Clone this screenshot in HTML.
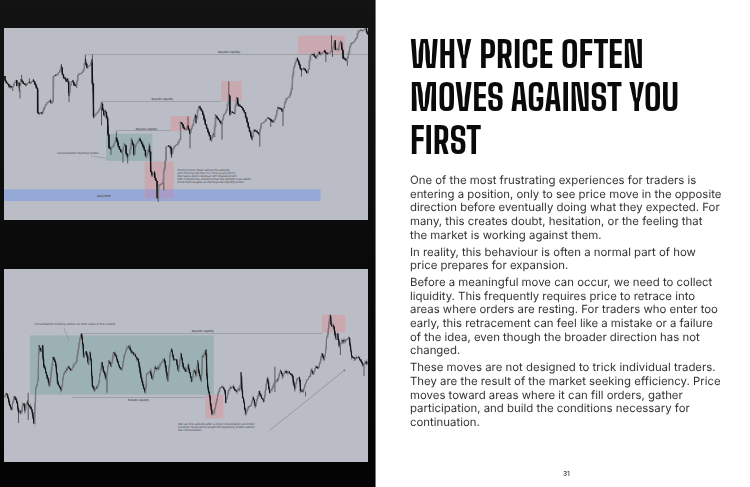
<!DOCTYPE html>
<html><head><meta charset="utf-8"><title>Why price often moves against you first</title>
<style>
*{margin:0;padding:0;box-sizing:border-box}
html,body{width:750px;height:487px;overflow:hidden;background:#fff}
body{position:relative}
#edge{position:absolute;left:375px;top:0;width:1px;height:487px;background:#777}
#left{position:absolute;left:0;top:0;width:375px;height:487px;background:linear-gradient(#131313,#0b0b0b 50%,#040404)}
.ch{position:absolute;display:block}
h1{position:absolute;left:410px;top:32.7px;will-change:transform;font-family:"Big Shoulders Text","Bebas Neue","Liberation Sans",sans-serif;font-weight:800;font-synthesis:none;font-size:35.9px;line-height:43px;color:#0a0a0a;letter-spacing:0}
h1 span{display:block;width:max-content;white-space:nowrap;transform-origin:0 50%}
#body{position:absolute;left:410px;top:173.6px;will-change:transform;text-rendering:geometricPrecision;font-family:"Inter","Liberation Sans",sans-serif;font-size:11.4px;line-height:13.62px;color:#333336}
#body p{margin-bottom:3.4px}
#body .l{display:block;white-space:nowrap;transform-origin:0 50%}
#pn{position:absolute;left:562.9px;top:470.4px;font-family:"Inter","Liberation Sans",sans-serif;font-size:6.6px;font-weight:600;color:#505050;will-change:transform;letter-spacing:-0.1px}
</style></head><body>
<div id="left"></div><div id="edge"></div>
<svg class="ch" style="left:4px;top:28px" width="364" height="192" viewBox="4 28 364 192">
<rect x="4" y="28" width="364" height="192" fill="#babdc6"/>
<rect x="4" y="189.3" width="316.5" height="11.7" fill="#95a8d7"/>
<rect x="106.1" y="133.8" width="46.3" height="27" fill="#9bb1b3"/>
<rect x="144.6" y="161.5" width="29.2" height="36.9" fill="#caa8b0"/>
<rect x="144.6" y="189.3" width="29.2" height="9.1" fill="#a79cc8"/>
<rect x="170.3" y="116" width="20.8" height="15" fill="#caa8b0"/>
<rect x="221" y="81" width="20.7" height="20.5" fill="#caa8b0"/>
<rect x="298.1" y="35.6" width="46.7" height="18" fill="#caa8b0"/>
<g stroke="#86878e" stroke-width="0.55">
<line x1="86" y1="54.5" x2="368" y2="54.5"/>
<line x1="101.5" y1="101.5" x2="221" y2="101.5"/>
<line x1="116.4" y1="130.5" x2="170.3" y2="130.5"/>
<line x1="91.2" y1="156" x2="105.9" y2="158.2"/>
</g>
<g stroke="#3c3d42" stroke-width="0.8"><line x1="12.7" y1="87.7" x2="12.7" y2="91"/><line x1="20" y1="89.7" x2="20" y2="98.4"/><line x1="21.6" y1="75" x2="21.6" y2="80"/><line x1="29.4" y1="78.4" x2="29.4" y2="82.4"/><line x1="61.4" y1="64" x2="61.4" y2="69"/><line x1="69" y1="95" x2="69" y2="102"/><line x1="85.4" y1="54.7" x2="85.4" y2="60"/><line x1="92.4" y1="54.7" x2="92.4" y2="60"/><line x1="101.5" y1="102.7" x2="101.5" y2="125.4"/><line x1="111" y1="147" x2="111" y2="154.7"/><line x1="116.4" y1="131.4" x2="116.4" y2="137.4"/><line x1="123" y1="153.4" x2="123" y2="162.7"/><line x1="127.7" y1="156.7" x2="127.7" y2="163.4"/><line x1="131.3" y1="138" x2="131.3" y2="141"/><line x1="149.2" y1="143.5" x2="149.2" y2="148.8"/><line x1="158.2" y1="198" x2="158.2" y2="202"/><line x1="163.8" y1="182.7" x2="163.8" y2="190.4"/><line x1="188" y1="116.4" x2="188" y2="125.7"/><line x1="190" y1="133.7" x2="190" y2="148.4"/><line x1="222" y1="123.7" x2="222" y2="139.7"/><line x1="228.8" y1="81.4" x2="228.8" y2="100"/><line x1="259.8" y1="134" x2="259.8" y2="146.5"/><line x1="270.7" y1="119.8" x2="270.7" y2="127"/><line x1="283" y1="111.6" x2="283" y2="126"/><line x1="301.5" y1="70.5" x2="301.5" y2="76.7"/><line x1="325.8" y1="53.8" x2="325.8" y2="62"/><line x1="331.5" y1="35.3" x2="331.5" y2="50"/><line x1="332.5" y1="49.7" x2="332.5" y2="56.9"/><line x1="347.4" y1="60" x2="347.4" y2="65.6"/></g>
<g stroke-width="1.0" stroke-linecap="round"><line x1="4.4" y1="76.4" x2="5.3" y2="79.7" stroke="#141416"/><line x1="5.3" y1="79.7" x2="6.7" y2="82.4" stroke="#141416"/><line x1="6.7" y1="82.4" x2="8.7" y2="85" stroke="#141416"/><line x1="8.7" y1="85" x2="10" y2="87" stroke="#141416"/><line x1="10" y1="87" x2="11.3" y2="86.4" stroke="#6c6d73"/><line x1="11.3" y1="86.4" x2="12.7" y2="87.7" stroke="#141416"/><line x1="12.7" y1="87.7" x2="14" y2="84.4" stroke="#6c6d73"/><line x1="14" y1="84.4" x2="15.4" y2="81.7" stroke="#6c6d73"/><line x1="15.4" y1="81.7" x2="16.7" y2="80.4" stroke="#6c6d73"/><line x1="16.7" y1="80.4" x2="17.4" y2="85.7" stroke="#141416"/><line x1="17.4" y1="85.7" x2="18.7" y2="83" stroke="#6c6d73"/><line x1="18.7" y1="83" x2="19.4" y2="89.7" stroke="#141416"/><line x1="19.4" y1="89.7" x2="20.7" y2="79.7" stroke="#6c6d73"/><line x1="20.7" y1="79.7" x2="22.7" y2="81.7" stroke="#141416"/><line x1="22.7" y1="81.7" x2="24" y2="83.7" stroke="#141416"/><line x1="24" y1="83.7" x2="26" y2="85" stroke="#141416"/><line x1="26" y1="85" x2="28" y2="83" stroke="#6c6d73"/><line x1="28" y1="83" x2="29.4" y2="82.4" stroke="#6c6d73"/><line x1="29.4" y1="82.4" x2="30.7" y2="83.7" stroke="#141416"/><line x1="30.7" y1="83.7" x2="32" y2="81.7" stroke="#6c6d73"/><line x1="32" y1="81.7" x2="33.4" y2="79.7" stroke="#6c6d73"/><line x1="33.4" y1="79.7" x2="34.7" y2="83" stroke="#141416"/><line x1="34.7" y1="83" x2="36.7" y2="87.7" stroke="#141416"/><line x1="36.7" y1="87.7" x2="37.8" y2="90.4" stroke="#141416"/><line x1="37.8" y1="90.4" x2="38" y2="113" stroke="#141416"/><line x1="38" y1="113" x2="39.4" y2="113.7" stroke="#141416"/><line x1="39.4" y1="113.7" x2="41.4" y2="112.4" stroke="#6c6d73"/><line x1="41.4" y1="112.4" x2="42.7" y2="113.7" stroke="#141416"/><line x1="42.7" y1="113.7" x2="44" y2="108.4" stroke="#6c6d73"/><line x1="44" y1="108.4" x2="45.4" y2="106.4" stroke="#6c6d73"/><line x1="45.4" y1="106.4" x2="46.7" y2="103" stroke="#6c6d73"/><line x1="46.7" y1="103" x2="48" y2="102.4" stroke="#6c6d73"/><line x1="48" y1="102.4" x2="50" y2="101" stroke="#6c6d73"/><line x1="50" y1="101" x2="52" y2="103" stroke="#141416"/><line x1="52" y1="103" x2="53.4" y2="100.4" stroke="#6c6d73"/><line x1="53.4" y1="100.4" x2="53.8" y2="76.4" stroke="#6c6d73"/><line x1="53.8" y1="76.4" x2="55.4" y2="75" stroke="#6c6d73"/><line x1="55.4" y1="75" x2="57.4" y2="74.4" stroke="#6c6d73"/><line x1="57.4" y1="74.4" x2="59.4" y2="72.4" stroke="#6c6d73"/><line x1="59.4" y1="72.4" x2="60.7" y2="69.7" stroke="#6c6d73"/><line x1="60.7" y1="69.7" x2="61.4" y2="66" stroke="#6c6d73"/><line x1="61.4" y1="66" x2="62.3" y2="71.4" stroke="#141416"/><line x1="62.3" y1="71.4" x2="63.7" y2="78" stroke="#141416"/><line x1="63.7" y1="78" x2="65" y2="77.4" stroke="#6c6d73"/><line x1="65" y1="77.4" x2="66.3" y2="81.4" stroke="#141416"/><line x1="66.3" y1="81.4" x2="67.7" y2="78.7" stroke="#6c6d73"/><line x1="67.7" y1="78.7" x2="68.4" y2="83.4" stroke="#141416"/><line x1="68.4" y1="83.4" x2="69" y2="95.4" stroke="#141416"/><line x1="69" y1="95.4" x2="70.4" y2="86.7" stroke="#6c6d73"/><line x1="70.4" y1="86.7" x2="71.7" y2="81.4" stroke="#6c6d73"/><line x1="71.7" y1="81.4" x2="73" y2="80.7" stroke="#6c6d73"/><line x1="73" y1="80.7" x2="74.4" y2="85.4" stroke="#141416"/><line x1="74.4" y1="85.4" x2="75.7" y2="84.7" stroke="#6c6d73"/><line x1="75.7" y1="84.7" x2="76.6" y2="87.4" stroke="#141416"/><line x1="76.6" y1="87.4" x2="77.7" y2="76.7" stroke="#6c6d73"/><line x1="77.7" y1="76.7" x2="79" y2="74" stroke="#6c6d73"/><line x1="79" y1="74" x2="81" y2="73.4" stroke="#6c6d73"/><line x1="81" y1="73.4" x2="83" y2="72" stroke="#6c6d73"/><line x1="83" y1="72" x2="84.4" y2="68.7" stroke="#6c6d73"/><line x1="84.4" y1="68.7" x2="85.4" y2="59.4" stroke="#6c6d73"/><line x1="85.4" y1="59.4" x2="87" y2="68" stroke="#141416"/><line x1="87" y1="68" x2="89" y2="66" stroke="#6c6d73"/><line x1="89" y1="66" x2="91" y2="64.7" stroke="#6c6d73"/><line x1="91" y1="64.7" x2="92" y2="60" stroke="#6c6d73"/><line x1="92" y1="60" x2="93" y2="89.4" stroke="#141416"/><line x1="93" y1="89.4" x2="93.8" y2="117" stroke="#141416"/><line x1="93.8" y1="117" x2="95.7" y2="115" stroke="#6c6d73"/><line x1="95.7" y1="115" x2="97.7" y2="112.7" stroke="#6c6d73"/><line x1="97.7" y1="112.7" x2="100.3" y2="108" stroke="#6c6d73"/><line x1="100.3" y1="108" x2="101" y2="106" stroke="#6c6d73"/><line x1="101" y1="106" x2="101.7" y2="102.7" stroke="#6c6d73"/><line x1="101.7" y1="102.7" x2="103" y2="109.3" stroke="#141416"/><line x1="103" y1="109.3" x2="104.3" y2="116" stroke="#141416"/><line x1="104.3" y1="116" x2="105.4" y2="110.7" stroke="#6c6d73"/><line x1="105.4" y1="110.7" x2="107" y2="116.7" stroke="#141416"/><line x1="107" y1="116.7" x2="108.1" y2="127.4" stroke="#141416"/><line x1="108.1" y1="127.4" x2="109" y2="147.4" stroke="#141416"/><line x1="109" y1="147.4" x2="110.4" y2="148.7" stroke="#141416"/><line x1="110.4" y1="148.7" x2="111.7" y2="147.4" stroke="#6c6d73"/><line x1="111.7" y1="147.4" x2="113" y2="146.7" stroke="#6c6d73"/><line x1="113" y1="146.7" x2="114.4" y2="144.7" stroke="#6c6d73"/><line x1="114.4" y1="144.7" x2="116.1" y2="137.4" stroke="#6c6d73"/><line x1="116.1" y1="137.4" x2="117" y2="140" stroke="#141416"/><line x1="117" y1="140" x2="118.4" y2="145.4" stroke="#141416"/><line x1="118.4" y1="145.4" x2="120.4" y2="150" stroke="#141416"/><line x1="120.4" y1="150" x2="122.4" y2="153.4" stroke="#141416"/><line x1="122.4" y1="153.4" x2="124.4" y2="144" stroke="#6c6d73"/><line x1="124.4" y1="144" x2="125.7" y2="145.4" stroke="#141416"/><line x1="125.7" y1="145.4" x2="126.4" y2="152.7" stroke="#141416"/><line x1="126.4" y1="152.7" x2="127.7" y2="156.7" stroke="#141416"/><line x1="127.7" y1="156.7" x2="129.7" y2="153.4" stroke="#6c6d73"/><line x1="129.7" y1="153.4" x2="131" y2="146.7" stroke="#6c6d73"/><line x1="131" y1="146.7" x2="132.1" y2="140.7" stroke="#6c6d73"/><line x1="132.1" y1="140.7" x2="133.7" y2="146.7" stroke="#141416"/><line x1="133.7" y1="146.7" x2="134.4" y2="154.7" stroke="#141416"/><line x1="134.4" y1="154.7" x2="135.7" y2="145.4" stroke="#6c6d73"/><line x1="135.7" y1="145.4" x2="137.7" y2="142.7" stroke="#6c6d73"/><line x1="137.7" y1="142.7" x2="139.7" y2="138.7" stroke="#6c6d73"/><line x1="139.7" y1="138.7" x2="141" y2="141.4" stroke="#141416"/><line x1="141" y1="141.4" x2="143.1" y2="146" stroke="#141416"/><line x1="143.1" y1="146" x2="145.1" y2="150.7" stroke="#141416"/><line x1="145.1" y1="150.7" x2="146.4" y2="157.4" stroke="#141416"/><line x1="146.4" y1="157.4" x2="148.4" y2="150.7" stroke="#6c6d73"/><line x1="148.4" y1="150.7" x2="149.7" y2="146" stroke="#6c6d73"/><line x1="149.7" y1="146" x2="150.4" y2="160.4" stroke="#141416"/><line x1="150.4" y1="160.4" x2="150.8" y2="170.4" stroke="#141416"/><line x1="150.8" y1="170.4" x2="152.3" y2="175.8" stroke="#141416"/><line x1="152.3" y1="175.8" x2="154.6" y2="172" stroke="#6c6d73"/><line x1="154.6" y1="172" x2="155.4" y2="179.6" stroke="#141416"/><line x1="155.4" y1="179.6" x2="157" y2="181.2" stroke="#141416"/><line x1="157" y1="181.2" x2="157.4" y2="198" stroke="#141416"/><line x1="157.4" y1="198" x2="158.3" y2="197.5" stroke="#6c6d73"/><line x1="158.3" y1="197.5" x2="158.8" y2="185.8" stroke="#6c6d73"/><line x1="158.8" y1="185.8" x2="160.8" y2="184.2" stroke="#6c6d73"/><line x1="160.8" y1="184.2" x2="163" y2="182.7" stroke="#6c6d73"/><line x1="163" y1="182.7" x2="163.8" y2="172" stroke="#6c6d73"/><line x1="163.8" y1="172" x2="165.4" y2="165.8" stroke="#6c6d73"/><line x1="165.4" y1="165.8" x2="166.2" y2="147.3" stroke="#6c6d73"/><line x1="166.2" y1="147.3" x2="168.5" y2="145.8" stroke="#6c6d73"/><line x1="168.5" y1="145.8" x2="170.8" y2="148" stroke="#141416"/><line x1="170.8" y1="148" x2="171.5" y2="156.5" stroke="#141416"/><line x1="171.5" y1="156.5" x2="173" y2="149.6" stroke="#6c6d73"/><line x1="173" y1="149.6" x2="175.4" y2="145.8" stroke="#6c6d73"/><line x1="175.4" y1="145.8" x2="177.7" y2="144.2" stroke="#6c6d73"/><line x1="177.7" y1="144.2" x2="180" y2="139.6" stroke="#6c6d73"/><line x1="180" y1="139.6" x2="180.7" y2="139" stroke="#6c6d73"/><line x1="180.7" y1="139" x2="180.3" y2="122.4" stroke="#6c6d73"/><line x1="180.3" y1="122.4" x2="182" y2="123" stroke="#141416"/><line x1="182" y1="123" x2="184" y2="128.4" stroke="#141416"/><line x1="184" y1="128.4" x2="186" y2="129.7" stroke="#141416"/><line x1="186" y1="129.7" x2="188" y2="125.7" stroke="#6c6d73"/><line x1="188" y1="125.7" x2="190" y2="133.7" stroke="#141416"/><line x1="190" y1="133.7" x2="192.7" y2="125.7" stroke="#6c6d73"/><line x1="192.7" y1="125.7" x2="195.4" y2="115" stroke="#6c6d73"/><line x1="195.4" y1="115" x2="196" y2="123" stroke="#141416"/><line x1="196" y1="123" x2="198.7" y2="106.3" stroke="#6c6d73"/><line x1="198.7" y1="106.3" x2="200" y2="107.7" stroke="#141416"/><line x1="200" y1="107.7" x2="202.7" y2="112.4" stroke="#141416"/><line x1="202.7" y1="112.4" x2="205.4" y2="123" stroke="#141416"/><line x1="205.4" y1="123" x2="208" y2="131" stroke="#141416"/><line x1="208" y1="131" x2="210.7" y2="137.7" stroke="#141416"/><line x1="210.7" y1="137.7" x2="211.4" y2="141" stroke="#141416"/><line x1="211.4" y1="141" x2="213.4" y2="133.7" stroke="#6c6d73"/><line x1="213.4" y1="133.7" x2="214.7" y2="136.4" stroke="#141416"/><line x1="214.7" y1="136.4" x2="215.4" y2="115" stroke="#6c6d73"/><line x1="215.4" y1="115" x2="217.4" y2="117.7" stroke="#141416"/><line x1="217.4" y1="117.7" x2="219.4" y2="120.4" stroke="#141416"/><line x1="219.4" y1="120.4" x2="222" y2="123.7" stroke="#141416"/><line x1="222" y1="123.7" x2="224" y2="115" stroke="#6c6d73"/><line x1="224" y1="115" x2="227.4" y2="109" stroke="#6c6d73"/><line x1="227.4" y1="109" x2="228.5" y2="100" stroke="#6c6d73"/><line x1="228.5" y1="100" x2="229.4" y2="95" stroke="#6c6d73"/><line x1="229.4" y1="95" x2="230" y2="115" stroke="#141416"/><line x1="230" y1="115" x2="232" y2="111.7" stroke="#6c6d73"/><line x1="232" y1="111.7" x2="234.8" y2="113.7" stroke="#141416"/><line x1="234.8" y1="113.7" x2="236.8" y2="97.7" stroke="#6c6d73"/><line x1="236.8" y1="97.7" x2="238.8" y2="105.7" stroke="#141416"/><line x1="238.8" y1="105.7" x2="242" y2="107" stroke="#141416"/><line x1="242" y1="107" x2="244.8" y2="112.4" stroke="#141416"/><line x1="244.8" y1="112.4" x2="246.8" y2="119" stroke="#141416"/><line x1="246.8" y1="119" x2="249.1" y2="128" stroke="#141416"/><line x1="249.1" y1="128" x2="252.2" y2="139.3" stroke="#141416"/><line x1="252.2" y1="139.3" x2="254.2" y2="130" stroke="#6c6d73"/><line x1="254.2" y1="130" x2="257.3" y2="132" stroke="#141416"/><line x1="257.3" y1="132" x2="259.4" y2="134.2" stroke="#141416"/><line x1="259.4" y1="134.2" x2="261.4" y2="124" stroke="#6c6d73"/><line x1="261.4" y1="124" x2="264.5" y2="121.9" stroke="#6c6d73"/><line x1="264.5" y1="121.9" x2="267.6" y2="117.8" stroke="#6c6d73"/><line x1="267.6" y1="117.8" x2="270.7" y2="119.8" stroke="#141416"/><line x1="270.7" y1="119.8" x2="273.7" y2="121.9" stroke="#141416"/><line x1="273.7" y1="121.9" x2="275.8" y2="117.8" stroke="#6c6d73"/><line x1="275.8" y1="117.8" x2="277.9" y2="107.5" stroke="#6c6d73"/><line x1="277.9" y1="107.5" x2="281" y2="108.5" stroke="#141416"/><line x1="281" y1="108.5" x2="283" y2="111.6" stroke="#141416"/><line x1="283" y1="111.6" x2="286" y2="99.3" stroke="#6c6d73"/><line x1="286" y1="99.3" x2="289.1" y2="97.2" stroke="#6c6d73"/><line x1="289.1" y1="97.2" x2="291.2" y2="93.1" stroke="#6c6d73"/><line x1="291.2" y1="93.1" x2="292.2" y2="87" stroke="#6c6d73"/><line x1="292.2" y1="87" x2="293.3" y2="70.5" stroke="#6c6d73"/><line x1="293.3" y1="70.5" x2="295.3" y2="63.3" stroke="#6c6d73"/><line x1="295.3" y1="63.3" x2="297.4" y2="58.2" stroke="#6c6d73"/><line x1="297.4" y1="58.2" x2="299.4" y2="64.4" stroke="#141416"/><line x1="299.4" y1="64.4" x2="301.5" y2="70.5" stroke="#141416"/><line x1="301.5" y1="70.5" x2="303.7" y2="68.2" stroke="#6c6d73"/><line x1="303.7" y1="68.2" x2="305.3" y2="69.2" stroke="#141416"/><line x1="305.3" y1="69.2" x2="307.3" y2="72.8" stroke="#141416"/><line x1="307.3" y1="72.8" x2="309.4" y2="68.2" stroke="#6c6d73"/><line x1="309.4" y1="68.2" x2="310.2" y2="55.8" stroke="#6c6d73"/><line x1="310.2" y1="55.8" x2="312" y2="54.3" stroke="#6c6d73"/><line x1="312" y1="54.3" x2="314.5" y2="55.3" stroke="#141416"/><line x1="314.5" y1="55.3" x2="316" y2="57.9" stroke="#141416"/><line x1="316" y1="57.9" x2="317.1" y2="55.8" stroke="#6c6d73"/><line x1="317.1" y1="55.8" x2="319.2" y2="52.2" stroke="#6c6d73"/><line x1="319.2" y1="52.2" x2="320.7" y2="54.8" stroke="#141416"/><line x1="320.7" y1="54.8" x2="322.7" y2="52.7" stroke="#6c6d73"/><line x1="322.7" y1="52.7" x2="324.8" y2="50.2" stroke="#6c6d73"/><line x1="324.8" y1="50.2" x2="325.8" y2="53.8" stroke="#141416"/><line x1="325.8" y1="53.8" x2="327.9" y2="53.8" stroke="#6c6d73"/><line x1="327.9" y1="53.8" x2="330.5" y2="52.2" stroke="#6c6d73"/><line x1="330.5" y1="52.2" x2="332" y2="49.7" stroke="#6c6d73"/><line x1="332" y1="49.7" x2="333.5" y2="47.1" stroke="#6c6d73"/><line x1="333.5" y1="47.1" x2="335.1" y2="40.4" stroke="#6c6d73"/><line x1="335.1" y1="40.4" x2="335.6" y2="49.7" stroke="#141416"/><line x1="335.6" y1="49.7" x2="337.1" y2="49.2" stroke="#6c6d73"/><line x1="337.1" y1="49.2" x2="338.7" y2="49.7" stroke="#141416"/><line x1="338.7" y1="49.7" x2="339.7" y2="44" stroke="#6c6d73"/><line x1="339.7" y1="44" x2="340.7" y2="41.4" stroke="#6c6d73"/><line x1="340.7" y1="41.4" x2="341.8" y2="46.6" stroke="#141416"/><line x1="341.8" y1="46.6" x2="342.8" y2="52.7" stroke="#141416"/><line x1="342.8" y1="52.7" x2="343.3" y2="57.9" stroke="#141416"/><line x1="343.3" y1="57.9" x2="344.8" y2="58.9" stroke="#141416"/><line x1="344.8" y1="58.9" x2="346.4" y2="60.5" stroke="#141416"/><line x1="346.4" y1="60.5" x2="348.4" y2="55.8" stroke="#6c6d73"/><line x1="348.4" y1="55.8" x2="349.5" y2="49.7" stroke="#6c6d73"/><line x1="349.5" y1="49.7" x2="351" y2="43.5" stroke="#6c6d73"/><line x1="351" y1="43.5" x2="352.6" y2="43" stroke="#6c6d73"/><line x1="352.6" y1="43" x2="354.6" y2="41.4" stroke="#6c6d73"/><line x1="354.6" y1="41.4" x2="356.2" y2="38.4" stroke="#6c6d73"/><line x1="356.2" y1="38.4" x2="357.7" y2="36.3" stroke="#6c6d73"/><line x1="357.7" y1="36.3" x2="358.2" y2="31.2" stroke="#6c6d73"/><line x1="358.2" y1="31.2" x2="360.8" y2="30.1" stroke="#6c6d73"/><line x1="360.8" y1="30.1" x2="362.8" y2="30.7" stroke="#141416"/><line x1="362.8" y1="30.7" x2="364.9" y2="29.1" stroke="#6c6d73"/><line x1="364.9" y1="29.1" x2="366.4" y2="28.6" stroke="#6c6d73"/><line x1="366.4" y1="28.6" x2="367.5" y2="34.2" stroke="#141416"/></g>
<g><line x1="5.05" y1="76.03" x2="5.05" y2="82.75" stroke="#131315" stroke-width="0.45"/><rect x="4.38" y="76.03" width="1.35" height="4.78" fill="#131315"/><line x1="6.35" y1="80.64" x2="6.35" y2="83.77" stroke="#131315" stroke-width="0.45"/><rect x="5.68" y="80.82" width="1.35" height="2.23" fill="#131315"/><line x1="7.65" y1="82.65" x2="7.65" y2="84.43" stroke="#131315" stroke-width="0.45"/><rect x="6.98" y="83.05" width="1.35" height="1.18" fill="#131315"/><line x1="8.95" y1="84.23" x2="8.95" y2="88.05" stroke="#131315" stroke-width="0.45"/><rect x="8.28" y="84.24" width="1.35" height="2.14" fill="#131315"/><line x1="10.25" y1="84.50" x2="10.25" y2="88.88" stroke="#131315" stroke-width="0.45"/><rect x="9.58" y="86.38" width="1.35" height="0.60" fill="#131315"/><line x1="11.55" y1="86.38" x2="11.55" y2="87.48" stroke="#131315" stroke-width="0.45"/><rect x="10.88" y="86.53" width="1.35" height="0.85" fill="#131315"/><line x1="12.85" y1="85.19" x2="12.85" y2="89.62" stroke="#7c7d83" stroke-width="0.45"/><rect x="12.18" y="85.96" width="1.35" height="1.43" fill="#7c7d83"/><line x1="14.15" y1="81.86" x2="14.15" y2="86.91" stroke="#7c7d83" stroke-width="0.45"/><rect x="13.48" y="82.45" width="1.35" height="3.51" fill="#7c7d83"/><line x1="15.45" y1="79.65" x2="15.45" y2="82.59" stroke="#7c7d83" stroke-width="0.45"/><rect x="14.78" y="80.53" width="1.35" height="1.92" fill="#7c7d83"/><line x1="16.75" y1="79.81" x2="16.75" y2="86.22" stroke="#131315" stroke-width="0.45"/><rect x="16.08" y="80.53" width="1.35" height="5.51" fill="#131315"/><line x1="18.05" y1="82.81" x2="18.05" y2="86.05" stroke="#7c7d83" stroke-width="0.45"/><rect x="17.38" y="82.93" width="1.35" height="3.10" fill="#7c7d83"/><line x1="19.35" y1="82.78" x2="19.35" y2="91.63" stroke="#131315" stroke-width="0.45"/><rect x="18.68" y="82.93" width="1.35" height="2.41" fill="#131315"/><line x1="20.65" y1="79.30" x2="20.65" y2="86.20" stroke="#7c7d83" stroke-width="0.45"/><rect x="19.98" y="79.80" width="1.35" height="5.54" fill="#7c7d83"/><line x1="21.95" y1="78.97" x2="21.95" y2="83.32" stroke="#131315" stroke-width="0.45"/><rect x="21.28" y="79.80" width="1.35" height="1.74" fill="#131315"/><line x1="23.25" y1="81.24" x2="23.25" y2="83.96" stroke="#131315" stroke-width="0.45"/><rect x="22.58" y="81.55" width="1.35" height="2.22" fill="#131315"/><line x1="24.55" y1="83.49" x2="24.55" y2="84.41" stroke="#131315" stroke-width="0.45"/><rect x="23.88" y="83.77" width="1.35" height="0.60" fill="#131315"/><line x1="25.85" y1="82.77" x2="25.85" y2="86.60" stroke="#131315" stroke-width="0.45"/><rect x="25.18" y="84.21" width="1.35" height="0.74" fill="#131315"/><line x1="27.15" y1="83.42" x2="27.15" y2="85.17" stroke="#7c7d83" stroke-width="0.45"/><rect x="26.48" y="83.60" width="1.35" height="1.34" fill="#7c7d83"/><line x1="28.45" y1="81.47" x2="28.45" y2="84.27" stroke="#7c7d83" stroke-width="0.45"/><rect x="27.78" y="82.06" width="1.35" height="1.54" fill="#7c7d83"/><line x1="29.75" y1="81.35" x2="29.75" y2="83.05" stroke="#131315" stroke-width="0.45"/><rect x="29.08" y="82.06" width="1.35" height="0.87" fill="#131315"/><line x1="31.05" y1="82.20" x2="31.05" y2="83.82" stroke="#7c7d83" stroke-width="0.45"/><rect x="30.38" y="82.20" width="1.35" height="0.72" fill="#7c7d83"/><line x1="32.35" y1="80.70" x2="32.35" y2="82.81" stroke="#7c7d83" stroke-width="0.45"/><rect x="31.68" y="80.71" width="1.35" height="1.49" fill="#7c7d83"/><line x1="33.65" y1="79.69" x2="33.65" y2="81.88" stroke="#131315" stroke-width="0.45"/><rect x="32.98" y="80.71" width="1.35" height="1.16" fill="#131315"/><line x1="34.95" y1="81.06" x2="34.95" y2="85.00" stroke="#131315" stroke-width="0.45"/><rect x="34.28" y="81.87" width="1.35" height="2.97" fill="#131315"/><line x1="36.25" y1="83.58" x2="36.25" y2="88.60" stroke="#131315" stroke-width="0.45"/><rect x="35.58" y="84.83" width="1.35" height="3.28" fill="#131315"/><line x1="37.55" y1="86.62" x2="37.55" y2="113.05" stroke="#131315" stroke-width="0.45"/><rect x="36.88" y="88.11" width="1.35" height="24.52" fill="#131315"/><line x1="38.85" y1="112.13" x2="38.85" y2="114.96" stroke="#131315" stroke-width="0.45"/><rect x="38.18" y="112.63" width="1.35" height="0.73" fill="#131315"/><line x1="40.15" y1="112.72" x2="40.15" y2="115.16" stroke="#7c7d83" stroke-width="0.45"/><rect x="39.48" y="112.73" width="1.35" height="0.63" fill="#7c7d83"/><line x1="41.45" y1="112.34" x2="41.45" y2="114.30" stroke="#131315" stroke-width="0.45"/><rect x="40.77" y="112.73" width="1.35" height="0.60" fill="#131315"/><line x1="42.75" y1="108.64" x2="42.75" y2="115.05" stroke="#7c7d83" stroke-width="0.45"/><rect x="42.07" y="110.58" width="1.35" height="2.52" fill="#7c7d83"/><line x1="44.05" y1="106.93" x2="44.05" y2="110.60" stroke="#7c7d83" stroke-width="0.45"/><rect x="43.37" y="107.13" width="1.35" height="3.45" fill="#7c7d83"/><line x1="45.35" y1="104.02" x2="45.35" y2="108.82" stroke="#7c7d83" stroke-width="0.45"/><rect x="44.67" y="104.55" width="1.35" height="2.58" fill="#7c7d83"/><line x1="46.65" y1="102.51" x2="46.65" y2="106.15" stroke="#7c7d83" stroke-width="0.45"/><rect x="45.97" y="102.68" width="1.35" height="1.87" fill="#7c7d83"/><line x1="47.95" y1="101.73" x2="47.95" y2="104.34" stroke="#7c7d83" stroke-width="0.45"/><rect x="47.27" y="101.77" width="1.35" height="0.91" fill="#7c7d83"/><line x1="49.25" y1="100.59" x2="49.25" y2="101.97" stroke="#7c7d83" stroke-width="0.45"/><rect x="48.57" y="100.59" width="1.35" height="1.18" fill="#7c7d83"/><line x1="50.55" y1="98.96" x2="50.55" y2="103.83" stroke="#131315" stroke-width="0.45"/><rect x="49.87" y="100.59" width="1.35" height="1.95" fill="#131315"/><line x1="51.85" y1="100.48" x2="51.85" y2="104.41" stroke="#7c7d83" stroke-width="0.45"/><rect x="51.17" y="102.13" width="1.35" height="0.60" fill="#7c7d83"/><line x1="53.15" y1="75.43" x2="53.15" y2="103.08" stroke="#7c7d83" stroke-width="0.45"/><rect x="52.47" y="76.54" width="1.35" height="25.59" fill="#7c7d83"/><line x1="54.45" y1="74.88" x2="54.45" y2="76.92" stroke="#7c7d83" stroke-width="0.45"/><rect x="53.77" y="74.95" width="1.35" height="1.59" fill="#7c7d83"/><line x1="55.75" y1="74.90" x2="55.75" y2="76.21" stroke="#131315" stroke-width="0.45"/><rect x="55.07" y="74.95" width="1.35" height="0.60" fill="#131315"/><line x1="57.05" y1="73.51" x2="57.05" y2="75.32" stroke="#7c7d83" stroke-width="0.45"/><rect x="56.37" y="74.46" width="1.35" height="0.73" fill="#7c7d83"/><line x1="58.35" y1="72.41" x2="58.35" y2="76.32" stroke="#7c7d83" stroke-width="0.45"/><rect x="57.67" y="72.42" width="1.35" height="2.04" fill="#7c7d83"/><line x1="59.65" y1="69.06" x2="59.65" y2="73.02" stroke="#7c7d83" stroke-width="0.45"/><rect x="58.97" y="70.36" width="1.35" height="2.06" fill="#7c7d83"/><line x1="60.95" y1="65.41" x2="60.95" y2="71.81" stroke="#7c7d83" stroke-width="0.45"/><rect x="60.27" y="67.42" width="1.35" height="2.94" fill="#7c7d83"/><line x1="62.25" y1="67.01" x2="62.25" y2="74.75" stroke="#131315" stroke-width="0.45"/><rect x="61.57" y="67.42" width="1.35" height="7.02" fill="#131315"/><line x1="63.55" y1="74.21" x2="63.55" y2="78.34" stroke="#131315" stroke-width="0.45"/><rect x="62.87" y="74.44" width="1.35" height="3.77" fill="#131315"/><line x1="64.85" y1="77.40" x2="64.85" y2="79.70" stroke="#131315" stroke-width="0.45"/><rect x="64.17" y="78.21" width="1.35" height="0.65" fill="#131315"/><line x1="66.15" y1="78.51" x2="66.15" y2="82.05" stroke="#131315" stroke-width="0.45"/><rect x="65.47" y="78.86" width="1.35" height="1.91" fill="#131315"/><line x1="67.45" y1="78.69" x2="67.45" y2="81.81" stroke="#131315" stroke-width="0.45"/><rect x="66.77" y="80.77" width="1.35" height="0.79" fill="#131315"/><line x1="68.75" y1="81.52" x2="68.75" y2="95.43" stroke="#131315" stroke-width="0.45"/><rect x="68.07" y="81.56" width="1.35" height="11.16" fill="#131315"/><line x1="70.05" y1="85.43" x2="70.05" y2="94.09" stroke="#7c7d83" stroke-width="0.45"/><rect x="69.37" y="85.56" width="1.35" height="7.15" fill="#7c7d83"/><line x1="71.35" y1="81.08" x2="71.35" y2="85.89" stroke="#7c7d83" stroke-width="0.45"/><rect x="70.67" y="81.62" width="1.35" height="3.94" fill="#7c7d83"/><line x1="72.65" y1="79.95" x2="72.65" y2="82.16" stroke="#131315" stroke-width="0.45"/><rect x="71.97" y="81.62" width="1.35" height="0.60" fill="#131315"/><line x1="73.95" y1="82.05" x2="73.95" y2="85.96" stroke="#131315" stroke-width="0.45"/><rect x="73.27" y="82.05" width="1.35" height="3.24" fill="#131315"/><line x1="75.25" y1="84.20" x2="75.25" y2="86.23" stroke="#131315" stroke-width="0.45"/><rect x="74.57" y="85.30" width="1.35" height="0.60" fill="#131315"/><line x1="76.55" y1="80.71" x2="76.55" y2="88.34" stroke="#7c7d83" stroke-width="0.45"/><rect x="75.87" y="81.10" width="1.35" height="4.29" fill="#7c7d83"/><line x1="77.85" y1="73.71" x2="77.85" y2="81.21" stroke="#7c7d83" stroke-width="0.45"/><rect x="77.17" y="74.78" width="1.35" height="6.32" fill="#7c7d83"/><line x1="79.15" y1="73.51" x2="79.15" y2="75.24" stroke="#7c7d83" stroke-width="0.45"/><rect x="78.47" y="74.06" width="1.35" height="0.72" fill="#7c7d83"/><line x1="80.45" y1="73.14" x2="80.45" y2="74.40" stroke="#7c7d83" stroke-width="0.45"/><rect x="79.77" y="73.24" width="1.35" height="0.81" fill="#7c7d83"/><line x1="81.75" y1="71.46" x2="81.75" y2="74.89" stroke="#7c7d83" stroke-width="0.45"/><rect x="81.07" y="72.09" width="1.35" height="1.15" fill="#7c7d83"/><line x1="83.05" y1="68.71" x2="83.05" y2="72.24" stroke="#7c7d83" stroke-width="0.45"/><rect x="82.37" y="70.40" width="1.35" height="1.69" fill="#7c7d83"/><line x1="84.35" y1="62.49" x2="84.35" y2="70.40" stroke="#7c7d83" stroke-width="0.45"/><rect x="83.67" y="63.32" width="1.35" height="7.08" fill="#7c7d83"/><line x1="85.65" y1="59.39" x2="85.65" y2="64.94" stroke="#131315" stroke-width="0.45"/><rect x="84.97" y="63.32" width="1.35" height="1.09" fill="#131315"/><line x1="86.95" y1="62.87" x2="86.95" y2="68.05" stroke="#131315" stroke-width="0.45"/><rect x="86.27" y="64.41" width="1.35" height="2.86" fill="#131315"/><line x1="88.25" y1="64.87" x2="88.25" y2="68.83" stroke="#7c7d83" stroke-width="0.45"/><rect x="87.57" y="66.04" width="1.35" height="1.24" fill="#7c7d83"/><line x1="89.55" y1="65.03" x2="89.55" y2="67.00" stroke="#7c7d83" stroke-width="0.45"/><rect x="88.87" y="65.23" width="1.35" height="0.81" fill="#7c7d83"/><line x1="90.85" y1="61.19" x2="90.85" y2="65.50" stroke="#7c7d83" stroke-width="0.45"/><rect x="90.17" y="62.63" width="1.35" height="2.60" fill="#7c7d83"/><line x1="92.15" y1="59.02" x2="92.15" y2="84.63" stroke="#131315" stroke-width="0.45"/><rect x="91.47" y="62.63" width="1.35" height="20.91" fill="#131315"/><line x1="93.45" y1="82.83" x2="93.45" y2="118.47" stroke="#131315" stroke-width="0.45"/><rect x="92.77" y="83.54" width="1.35" height="33.04" fill="#131315"/><line x1="94.75" y1="113.70" x2="94.75" y2="118.42" stroke="#7c7d83" stroke-width="0.45"/><rect x="94.07" y="115.31" width="1.35" height="1.27" fill="#7c7d83"/><line x1="96.05" y1="112.73" x2="96.05" y2="115.37" stroke="#7c7d83" stroke-width="0.45"/><rect x="95.37" y="113.38" width="1.35" height="1.93" fill="#7c7d83"/><line x1="97.35" y1="111.58" x2="97.35" y2="113.47" stroke="#7c7d83" stroke-width="0.45"/><rect x="96.67" y="111.70" width="1.35" height="1.68" fill="#7c7d83"/><line x1="98.65" y1="109.36" x2="98.65" y2="112.85" stroke="#7c7d83" stroke-width="0.45"/><rect x="97.97" y="110.01" width="1.35" height="1.69" fill="#7c7d83"/><line x1="99.95" y1="107.62" x2="99.95" y2="110.94" stroke="#7c7d83" stroke-width="0.45"/><rect x="99.27" y="107.63" width="1.35" height="2.39" fill="#7c7d83"/><line x1="101.25" y1="101.67" x2="101.25" y2="107.87" stroke="#7c7d83" stroke-width="0.45"/><rect x="100.57" y="103.81" width="1.35" height="3.82" fill="#7c7d83"/><line x1="102.55" y1="103.28" x2="102.55" y2="110.28" stroke="#131315" stroke-width="0.45"/><rect x="101.87" y="103.81" width="1.35" height="6.42" fill="#131315"/><line x1="103.85" y1="109.16" x2="103.85" y2="116.00" stroke="#131315" stroke-width="0.45"/><rect x="103.17" y="110.22" width="1.35" height="4.48" fill="#131315"/><line x1="105.15" y1="108.77" x2="105.15" y2="116.01" stroke="#7c7d83" stroke-width="0.45"/><rect x="104.47" y="112.20" width="1.35" height="2.50" fill="#7c7d83"/><line x1="106.45" y1="111.41" x2="106.45" y2="118.30" stroke="#131315" stroke-width="0.45"/><rect x="105.77" y="112.20" width="1.35" height="5.95" fill="#131315"/><line x1="107.75" y1="116.49" x2="107.75" y2="136.18" stroke="#131315" stroke-width="0.45"/><rect x="107.07" y="118.15" width="1.35" height="16.18" fill="#131315"/><line x1="109.05" y1="134.30" x2="109.05" y2="149.29" stroke="#131315" stroke-width="0.45"/><rect x="108.37" y="134.34" width="1.35" height="13.75" fill="#131315"/><line x1="110.35" y1="146.67" x2="110.35" y2="149.57" stroke="#131315" stroke-width="0.45"/><rect x="109.67" y="148.09" width="1.35" height="0.60" fill="#131315"/><line x1="111.65" y1="145.83" x2="111.65" y2="148.86" stroke="#7c7d83" stroke-width="0.45"/><rect x="110.97" y="146.81" width="1.35" height="1.65" fill="#7c7d83"/><line x1="112.95" y1="144.15" x2="112.95" y2="148.70" stroke="#7c7d83" stroke-width="0.45"/><rect x="112.27" y="145.86" width="1.35" height="0.95" fill="#7c7d83"/><line x1="114.25" y1="142.71" x2="114.25" y2="147.15" stroke="#7c7d83" stroke-width="0.45"/><rect x="113.57" y="143.01" width="1.35" height="2.85" fill="#7c7d83"/><line x1="115.55" y1="137.03" x2="115.55" y2="143.06" stroke="#7c7d83" stroke-width="0.45"/><rect x="114.87" y="137.77" width="1.35" height="5.24" fill="#7c7d83"/><line x1="116.85" y1="137.55" x2="116.85" y2="141.92" stroke="#131315" stroke-width="0.45"/><rect x="116.17" y="137.77" width="1.35" height="4.12" fill="#131315"/><line x1="118.15" y1="140.24" x2="118.15" y2="147.93" stroke="#131315" stroke-width="0.45"/><rect x="117.47" y="141.89" width="1.35" height="4.20" fill="#131315"/><line x1="119.45" y1="146.06" x2="119.45" y2="150.08" stroke="#131315" stroke-width="0.45"/><rect x="118.77" y="146.09" width="1.35" height="3.27" fill="#131315"/><line x1="120.75" y1="149.02" x2="120.75" y2="152.19" stroke="#131315" stroke-width="0.45"/><rect x="120.07" y="149.36" width="1.35" height="2.80" fill="#131315"/><line x1="122.05" y1="151.32" x2="122.05" y2="153.52" stroke="#7c7d83" stroke-width="0.45"/><rect x="121.37" y="151.50" width="1.35" height="0.66" fill="#7c7d83"/><line x1="123.35" y1="145.04" x2="123.35" y2="151.50" stroke="#7c7d83" stroke-width="0.45"/><rect x="122.67" y="146.16" width="1.35" height="5.33" fill="#7c7d83"/><line x1="124.65" y1="143.93" x2="124.65" y2="146.55" stroke="#7c7d83" stroke-width="0.45"/><rect x="123.97" y="145.29" width="1.35" height="0.87" fill="#7c7d83"/><line x1="125.95" y1="145.29" x2="125.95" y2="154.49" stroke="#131315" stroke-width="0.45"/><rect x="125.27" y="145.29" width="1.35" height="8.41" fill="#131315"/><line x1="127.25" y1="152.97" x2="127.25" y2="158.10" stroke="#131315" stroke-width="0.45"/><rect x="126.57" y="153.70" width="1.35" height="2.91" fill="#131315"/><line x1="128.55" y1="154.45" x2="128.55" y2="156.77" stroke="#7c7d83" stroke-width="0.45"/><rect x="127.87" y="154.53" width="1.35" height="2.08" fill="#7c7d83"/><line x1="129.85" y1="148.71" x2="129.85" y2="154.68" stroke="#7c7d83" stroke-width="0.45"/><rect x="129.17" y="149.30" width="1.35" height="5.24" fill="#7c7d83"/><line x1="131.15" y1="141.71" x2="131.15" y2="149.42" stroke="#7c7d83" stroke-width="0.45"/><rect x="130.47" y="142.40" width="1.35" height="6.90" fill="#7c7d83"/><line x1="132.45" y1="139.77" x2="132.45" y2="145.63" stroke="#131315" stroke-width="0.45"/><rect x="131.77" y="142.40" width="1.35" height="1.98" fill="#131315"/><line x1="133.75" y1="143.07" x2="133.75" y2="156.15" stroke="#131315" stroke-width="0.45"/><rect x="133.07" y="144.38" width="1.35" height="9.88" fill="#131315"/><line x1="135.05" y1="145.18" x2="135.05" y2="155.18" stroke="#7c7d83" stroke-width="0.45"/><rect x="134.37" y="145.77" width="1.35" height="8.49" fill="#7c7d83"/><line x1="136.35" y1="142.25" x2="136.35" y2="146.95" stroke="#7c7d83" stroke-width="0.45"/><rect x="135.67" y="143.71" width="1.35" height="2.06" fill="#7c7d83"/><line x1="137.65" y1="140.55" x2="137.65" y2="144.01" stroke="#7c7d83" stroke-width="0.45"/><rect x="136.97" y="141.20" width="1.35" height="2.52" fill="#7c7d83"/><line x1="138.95" y1="138.74" x2="138.95" y2="141.22" stroke="#7c7d83" stroke-width="0.45"/><rect x="138.27" y="138.90" width="1.35" height="2.30" fill="#7c7d83"/><line x1="140.25" y1="137.40" x2="140.25" y2="141.21" stroke="#131315" stroke-width="0.45"/><rect x="139.57" y="138.90" width="1.35" height="2.27" fill="#131315"/><line x1="141.55" y1="140.06" x2="141.55" y2="144.48" stroke="#131315" stroke-width="0.45"/><rect x="140.87" y="141.18" width="1.35" height="2.71" fill="#131315"/><line x1="142.85" y1="142.02" x2="142.85" y2="147.94" stroke="#131315" stroke-width="0.45"/><rect x="142.17" y="143.89" width="1.35" height="2.90" fill="#131315"/><line x1="144.15" y1="144.89" x2="144.15" y2="150.07" stroke="#131315" stroke-width="0.45"/><rect x="143.47" y="146.79" width="1.35" height="3.25" fill="#131315"/><line x1="145.45" y1="149.53" x2="145.45" y2="156.63" stroke="#131315" stroke-width="0.45"/><rect x="144.77" y="150.03" width="1.35" height="5.94" fill="#131315"/><line x1="146.75" y1="153.97" x2="146.75" y2="157.91" stroke="#7c7d83" stroke-width="0.45"/><rect x="146.07" y="154.16" width="1.35" height="1.81" fill="#7c7d83"/><line x1="148.05" y1="149.32" x2="148.05" y2="154.72" stroke="#7c7d83" stroke-width="0.45"/><rect x="147.37" y="149.57" width="1.35" height="4.59" fill="#7c7d83"/><line x1="149.35" y1="146.00" x2="149.35" y2="152.09" stroke="#131315" stroke-width="0.45"/><rect x="148.67" y="149.57" width="1.35" height="2.13" fill="#131315"/><line x1="150.65" y1="151.30" x2="150.65" y2="172.12" stroke="#131315" stroke-width="0.45"/><rect x="149.97" y="151.70" width="1.35" height="20.23" fill="#131315"/><line x1="151.95" y1="171.61" x2="151.95" y2="177.03" stroke="#131315" stroke-width="0.45"/><rect x="151.28" y="171.93" width="1.35" height="3.05" fill="#131315"/><line x1="153.25" y1="172.31" x2="153.25" y2="175.47" stroke="#7c7d83" stroke-width="0.45"/><rect x="152.58" y="173.24" width="1.35" height="1.74" fill="#7c7d83"/><line x1="154.55" y1="171.16" x2="154.55" y2="178.35" stroke="#131315" stroke-width="0.45"/><rect x="153.88" y="173.24" width="1.35" height="4.82" fill="#131315"/><line x1="155.85" y1="177.98" x2="155.85" y2="181.00" stroke="#131315" stroke-width="0.45"/><rect x="155.18" y="178.06" width="1.35" height="2.94" fill="#131315"/><line x1="157.15" y1="180.84" x2="157.15" y2="198.79" stroke="#131315" stroke-width="0.45"/><rect x="156.48" y="181.00" width="1.35" height="17.08" fill="#131315"/><line x1="158.45" y1="184.25" x2="158.45" y2="199.45" stroke="#7c7d83" stroke-width="0.45"/><rect x="157.78" y="185.88" width="1.35" height="12.20" fill="#7c7d83"/><line x1="159.75" y1="183.75" x2="159.75" y2="187.82" stroke="#7c7d83" stroke-width="0.45"/><rect x="159.08" y="184.28" width="1.35" height="1.60" fill="#7c7d83"/><line x1="161.05" y1="183.50" x2="161.05" y2="185.67" stroke="#7c7d83" stroke-width="0.45"/><rect x="160.38" y="183.93" width="1.35" height="0.60" fill="#7c7d83"/><line x1="162.35" y1="182.37" x2="162.35" y2="185.04" stroke="#7c7d83" stroke-width="0.45"/><rect x="161.68" y="182.87" width="1.35" height="1.05" fill="#7c7d83"/><line x1="163.65" y1="167.70" x2="163.65" y2="183.06" stroke="#7c7d83" stroke-width="0.45"/><rect x="162.98" y="169.65" width="1.35" height="13.23" fill="#7c7d83"/><line x1="164.95" y1="160.63" x2="164.95" y2="170.41" stroke="#7c7d83" stroke-width="0.45"/><rect x="164.28" y="160.69" width="1.35" height="8.95" fill="#7c7d83"/><line x1="166.25" y1="145.79" x2="166.25" y2="160.95" stroke="#7c7d83" stroke-width="0.45"/><rect x="165.58" y="146.36" width="1.35" height="14.33" fill="#7c7d83"/><line x1="167.55" y1="146.25" x2="167.55" y2="146.66" stroke="#7c7d83" stroke-width="0.45"/><rect x="166.88" y="146.25" width="1.35" height="0.60" fill="#7c7d83"/><line x1="168.85" y1="145.44" x2="168.85" y2="146.83" stroke="#131315" stroke-width="0.45"/><rect x="168.18" y="146.25" width="1.35" height="0.60" fill="#131315"/><line x1="170.15" y1="145.02" x2="170.15" y2="148.68" stroke="#131315" stroke-width="0.45"/><rect x="169.48" y="146.51" width="1.35" height="1.10" fill="#131315"/><line x1="171.45" y1="146.53" x2="171.45" y2="158.11" stroke="#131315" stroke-width="0.45"/><rect x="170.78" y="147.61" width="1.35" height="6.26" fill="#131315"/><line x1="172.75" y1="147.69" x2="172.75" y2="154.35" stroke="#7c7d83" stroke-width="0.45"/><rect x="172.08" y="148.81" width="1.35" height="5.05" fill="#7c7d83"/><line x1="174.05" y1="145.37" x2="174.05" y2="149.63" stroke="#7c7d83" stroke-width="0.45"/><rect x="173.38" y="146.48" width="1.35" height="2.33" fill="#7c7d83"/><line x1="175.35" y1="144.20" x2="175.35" y2="147.27" stroke="#7c7d83" stroke-width="0.45"/><rect x="174.68" y="145.04" width="1.35" height="1.44" fill="#7c7d83"/><line x1="176.65" y1="144.17" x2="176.65" y2="145.83" stroke="#7c7d83" stroke-width="0.45"/><rect x="175.98" y="144.51" width="1.35" height="0.60" fill="#7c7d83"/><line x1="177.95" y1="141.26" x2="177.95" y2="146.26" stroke="#7c7d83" stroke-width="0.45"/><rect x="177.28" y="142.07" width="1.35" height="2.44" fill="#7c7d83"/><line x1="179.25" y1="138.35" x2="179.25" y2="143.50" stroke="#7c7d83" stroke-width="0.45"/><rect x="178.58" y="139.57" width="1.35" height="2.50" fill="#7c7d83"/><line x1="180.55" y1="121.22" x2="180.55" y2="140.93" stroke="#7c7d83" stroke-width="0.45"/><rect x="179.88" y="122.93" width="1.35" height="16.64" fill="#7c7d83"/><line x1="181.85" y1="122.20" x2="181.85" y2="124.55" stroke="#131315" stroke-width="0.45"/><rect x="181.18" y="122.93" width="1.35" height="1.38" fill="#131315"/><line x1="183.15" y1="124.16" x2="183.15" y2="128.68" stroke="#131315" stroke-width="0.45"/><rect x="182.48" y="124.30" width="1.35" height="3.38" fill="#131315"/><line x1="184.45" y1="126.15" x2="184.45" y2="129.68" stroke="#131315" stroke-width="0.45"/><rect x="183.78" y="127.68" width="1.35" height="1.41" fill="#131315"/><line x1="185.75" y1="128.38" x2="185.75" y2="131.09" stroke="#7c7d83" stroke-width="0.45"/><rect x="185.08" y="128.42" width="1.35" height="0.67" fill="#7c7d83"/><line x1="187.05" y1="125.72" x2="187.05" y2="128.86" stroke="#7c7d83" stroke-width="0.45"/><rect x="186.38" y="126.19" width="1.35" height="2.24" fill="#7c7d83"/><line x1="188.35" y1="125.70" x2="188.35" y2="130.14" stroke="#131315" stroke-width="0.45"/><rect x="187.68" y="126.19" width="1.35" height="3.43" fill="#131315"/><line x1="189.65" y1="128.51" x2="189.65" y2="134.06" stroke="#131315" stroke-width="0.45"/><rect x="188.98" y="129.62" width="1.35" height="2.88" fill="#131315"/><line x1="190.95" y1="128.32" x2="190.95" y2="133.36" stroke="#7c7d83" stroke-width="0.45"/><rect x="190.28" y="128.57" width="1.35" height="3.93" fill="#7c7d83"/><line x1="192.25" y1="125.31" x2="192.25" y2="129.08" stroke="#7c7d83" stroke-width="0.45"/><rect x="191.58" y="125.31" width="1.35" height="3.26" fill="#7c7d83"/><line x1="193.55" y1="117.98" x2="193.55" y2="126.26" stroke="#7c7d83" stroke-width="0.45"/><rect x="192.88" y="119.77" width="1.35" height="5.54" fill="#7c7d83"/><line x1="194.85" y1="114.68" x2="194.85" y2="120.71" stroke="#7c7d83" stroke-width="0.45"/><rect x="194.18" y="116.04" width="1.35" height="3.72" fill="#7c7d83"/><line x1="196.15" y1="115.31" x2="196.15" y2="123.09" stroke="#131315" stroke-width="0.45"/><rect x="195.48" y="116.04" width="1.35" height="2.12" fill="#131315"/><line x1="197.45" y1="110.24" x2="197.45" y2="119.73" stroke="#7c7d83" stroke-width="0.45"/><rect x="196.78" y="110.33" width="1.35" height="7.83" fill="#7c7d83"/><line x1="198.75" y1="106.16" x2="198.75" y2="110.34" stroke="#7c7d83" stroke-width="0.45"/><rect x="198.08" y="106.57" width="1.35" height="3.75" fill="#7c7d83"/><line x1="200.05" y1="105.19" x2="200.05" y2="108.98" stroke="#131315" stroke-width="0.45"/><rect x="199.38" y="106.57" width="1.35" height="1.86" fill="#131315"/><line x1="201.35" y1="108.17" x2="201.35" y2="111.35" stroke="#131315" stroke-width="0.45"/><rect x="200.68" y="108.44" width="1.35" height="2.39" fill="#131315"/><line x1="202.65" y1="109.74" x2="202.65" y2="115.03" stroke="#131315" stroke-width="0.45"/><rect x="201.98" y="110.83" width="1.35" height="4.15" fill="#131315"/><line x1="203.95" y1="114.12" x2="203.95" y2="120.54" stroke="#131315" stroke-width="0.45"/><rect x="203.28" y="114.97" width="1.35" height="4.55" fill="#131315"/><line x1="205.25" y1="118.19" x2="205.25" y2="124.89" stroke="#131315" stroke-width="0.45"/><rect x="204.58" y="119.52" width="1.35" height="5.22" fill="#131315"/><line x1="206.55" y1="124.00" x2="206.55" y2="128.82" stroke="#131315" stroke-width="0.45"/><rect x="205.88" y="124.74" width="1.35" height="3.97" fill="#131315"/><line x1="207.85" y1="128.09" x2="207.85" y2="132.34" stroke="#131315" stroke-width="0.45"/><rect x="207.18" y="128.72" width="1.35" height="3.57" fill="#131315"/><line x1="209.15" y1="131.04" x2="209.15" y2="136.69" stroke="#131315" stroke-width="0.45"/><rect x="208.48" y="132.29" width="1.35" height="2.90" fill="#131315"/><line x1="210.45" y1="134.97" x2="210.45" y2="140.16" stroke="#131315" stroke-width="0.45"/><rect x="209.78" y="135.19" width="1.35" height="4.87" fill="#131315"/><line x1="211.75" y1="135.79" x2="211.75" y2="142.00" stroke="#7c7d83" stroke-width="0.45"/><rect x="211.08" y="137.65" width="1.35" height="2.41" fill="#7c7d83"/><line x1="213.05" y1="132.28" x2="213.05" y2="137.65" stroke="#7c7d83" stroke-width="0.45"/><rect x="212.38" y="134.34" width="1.35" height="3.31" fill="#7c7d83"/><line x1="214.35" y1="125.33" x2="214.35" y2="137.17" stroke="#7c7d83" stroke-width="0.45"/><rect x="213.68" y="126.95" width="1.35" height="7.39" fill="#7c7d83"/><line x1="215.65" y1="114.80" x2="215.65" y2="127.32" stroke="#7c7d83" stroke-width="0.45"/><rect x="214.98" y="116.36" width="1.35" height="10.59" fill="#7c7d83"/><line x1="216.95" y1="115.20" x2="216.95" y2="119.10" stroke="#131315" stroke-width="0.45"/><rect x="216.28" y="116.36" width="1.35" height="1.50" fill="#131315"/><line x1="218.25" y1="117.79" x2="218.25" y2="120.58" stroke="#131315" stroke-width="0.45"/><rect x="217.58" y="117.86" width="1.35" height="1.94" fill="#131315"/><line x1="219.55" y1="119.75" x2="219.55" y2="123.13" stroke="#131315" stroke-width="0.45"/><rect x="218.88" y="119.80" width="1.35" height="1.44" fill="#131315"/><line x1="220.85" y1="120.84" x2="220.85" y2="124.86" stroke="#131315" stroke-width="0.45"/><rect x="220.18" y="121.24" width="1.35" height="1.96" fill="#131315"/><line x1="222.15" y1="118.72" x2="222.15" y2="124.44" stroke="#7c7d83" stroke-width="0.45"/><rect x="221.48" y="119.78" width="1.35" height="3.42" fill="#7c7d83"/><line x1="223.45" y1="114.48" x2="223.45" y2="120.33" stroke="#7c7d83" stroke-width="0.45"/><rect x="222.78" y="114.62" width="1.35" height="5.16" fill="#7c7d83"/><line x1="224.75" y1="112.96" x2="224.75" y2="114.66" stroke="#7c7d83" stroke-width="0.45"/><rect x="224.08" y="113.00" width="1.35" height="1.62" fill="#7c7d83"/><line x1="226.05" y1="109.59" x2="226.05" y2="113.26" stroke="#7c7d83" stroke-width="0.45"/><rect x="225.38" y="110.61" width="1.35" height="2.39" fill="#7c7d83"/><line x1="227.35" y1="102.77" x2="227.35" y2="110.73" stroke="#7c7d83" stroke-width="0.45"/><rect x="226.68" y="103.90" width="1.35" height="6.71" fill="#7c7d83"/><line x1="228.65" y1="94.88" x2="228.65" y2="104.93" stroke="#7c7d83" stroke-width="0.45"/><rect x="227.98" y="95.91" width="1.35" height="7.98" fill="#7c7d83"/><line x1="229.95" y1="94.81" x2="229.95" y2="115.02" stroke="#131315" stroke-width="0.45"/><rect x="229.28" y="95.91" width="1.35" height="17.91" fill="#131315"/><line x1="231.25" y1="111.99" x2="231.25" y2="114.31" stroke="#7c7d83" stroke-width="0.45"/><rect x="230.58" y="112.30" width="1.35" height="1.52" fill="#7c7d83"/><line x1="232.55" y1="111.68" x2="232.55" y2="112.87" stroke="#131315" stroke-width="0.45"/><rect x="231.88" y="112.30" width="1.35" height="0.60" fill="#131315"/><line x1="233.85" y1="112.79" x2="233.85" y2="114.12" stroke="#131315" stroke-width="0.45"/><rect x="233.18" y="112.80" width="1.35" height="0.60" fill="#131315"/><line x1="235.15" y1="103.87" x2="235.15" y2="113.79" stroke="#7c7d83" stroke-width="0.45"/><rect x="234.48" y="105.45" width="1.35" height="7.95" fill="#7c7d83"/><line x1="236.45" y1="97.70" x2="236.45" y2="106.44" stroke="#7c7d83" stroke-width="0.45"/><rect x="235.78" y="98.41" width="1.35" height="7.04" fill="#7c7d83"/><line x1="237.75" y1="97.08" x2="237.75" y2="106.34" stroke="#131315" stroke-width="0.45"/><rect x="237.08" y="98.41" width="1.35" height="6.07" fill="#131315"/><line x1="239.05" y1="103.73" x2="239.05" y2="105.93" stroke="#131315" stroke-width="0.45"/><rect x="238.38" y="104.48" width="1.35" height="1.12" fill="#131315"/><line x1="240.35" y1="104.20" x2="240.35" y2="106.94" stroke="#131315" stroke-width="0.45"/><rect x="239.68" y="105.60" width="1.35" height="1.31" fill="#131315"/><line x1="241.65" y1="105.95" x2="241.65" y2="108.06" stroke="#131315" stroke-width="0.45"/><rect x="240.98" y="106.91" width="1.35" height="1.13" fill="#131315"/><line x1="242.95" y1="107.72" x2="242.95" y2="110.65" stroke="#131315" stroke-width="0.45"/><rect x="242.28" y="108.04" width="1.35" height="2.12" fill="#131315"/><line x1="244.25" y1="109.87" x2="244.25" y2="112.46" stroke="#131315" stroke-width="0.45"/><rect x="243.58" y="110.16" width="1.35" height="2.25" fill="#131315"/><line x1="245.55" y1="112.29" x2="245.55" y2="118.73" stroke="#131315" stroke-width="0.45"/><rect x="244.88" y="112.40" width="1.35" height="4.99" fill="#131315"/><line x1="246.85" y1="116.96" x2="246.85" y2="122.89" stroke="#131315" stroke-width="0.45"/><rect x="246.18" y="117.39" width="1.35" height="4.83" fill="#131315"/><line x1="248.15" y1="122.12" x2="248.15" y2="128.05" stroke="#131315" stroke-width="0.45"/><rect x="247.48" y="122.21" width="1.35" height="4.82" fill="#131315"/><line x1="249.45" y1="126.81" x2="249.45" y2="132.36" stroke="#131315" stroke-width="0.45"/><rect x="248.78" y="127.03" width="1.35" height="4.62" fill="#131315"/><line x1="250.75" y1="130.00" x2="250.75" y2="138.24" stroke="#131315" stroke-width="0.45"/><rect x="250.08" y="131.65" width="1.35" height="4.61" fill="#131315"/><line x1="252.05" y1="136.26" x2="252.05" y2="140.57" stroke="#131315" stroke-width="0.45"/><rect x="251.38" y="136.26" width="1.35" height="0.60" fill="#131315"/><line x1="253.35" y1="129.16" x2="253.35" y2="137.03" stroke="#7c7d83" stroke-width="0.45"/><rect x="252.68" y="130.64" width="1.35" height="6.19" fill="#7c7d83"/><line x1="254.65" y1="129.71" x2="254.65" y2="131.56" stroke="#131315" stroke-width="0.45"/><rect x="253.98" y="130.64" width="1.35" height="0.60" fill="#131315"/><line x1="255.95" y1="129.20" x2="255.95" y2="131.80" stroke="#131315" stroke-width="0.45"/><rect x="255.28" y="130.88" width="1.35" height="0.60" fill="#131315"/><line x1="257.25" y1="129.93" x2="257.25" y2="133.47" stroke="#131315" stroke-width="0.45"/><rect x="256.58" y="131.48" width="1.35" height="0.84" fill="#131315"/><line x1="258.55" y1="132.28" x2="258.55" y2="135.26" stroke="#131315" stroke-width="0.45"/><rect x="257.88" y="132.32" width="1.35" height="1.27" fill="#131315"/><line x1="259.85" y1="128.76" x2="259.85" y2="134.24" stroke="#7c7d83" stroke-width="0.45"/><rect x="259.18" y="128.76" width="1.35" height="4.84" fill="#7c7d83"/><line x1="261.15" y1="122.64" x2="261.15" y2="128.76" stroke="#7c7d83" stroke-width="0.45"/><rect x="260.48" y="123.53" width="1.35" height="5.23" fill="#7c7d83"/><line x1="262.45" y1="122.56" x2="262.45" y2="123.56" stroke="#7c7d83" stroke-width="0.45"/><rect x="261.78" y="122.85" width="1.35" height="0.68" fill="#7c7d83"/><line x1="263.75" y1="121.36" x2="263.75" y2="124.26" stroke="#7c7d83" stroke-width="0.45"/><rect x="263.08" y="121.79" width="1.35" height="1.06" fill="#7c7d83"/><line x1="265.05" y1="119.04" x2="265.05" y2="121.90" stroke="#7c7d83" stroke-width="0.45"/><rect x="264.38" y="120.68" width="1.35" height="1.11" fill="#7c7d83"/><line x1="266.35" y1="118.99" x2="266.35" y2="122.10" stroke="#7c7d83" stroke-width="0.45"/><rect x="265.68" y="118.99" width="1.35" height="1.69" fill="#7c7d83"/><line x1="267.65" y1="117.77" x2="267.65" y2="119.14" stroke="#7c7d83" stroke-width="0.45"/><rect x="266.98" y="117.77" width="1.35" height="1.22" fill="#7c7d83"/><line x1="268.95" y1="117.74" x2="268.95" y2="118.81" stroke="#131315" stroke-width="0.45"/><rect x="268.28" y="117.77" width="1.35" height="1.02" fill="#131315"/><line x1="270.25" y1="118.79" x2="270.25" y2="120.61" stroke="#131315" stroke-width="0.45"/><rect x="269.58" y="118.79" width="1.35" height="0.98" fill="#131315"/><line x1="271.55" y1="118.66" x2="271.55" y2="122.28" stroke="#131315" stroke-width="0.45"/><rect x="270.88" y="119.77" width="1.35" height="1.57" fill="#131315"/><line x1="272.85" y1="119.91" x2="272.85" y2="122.92" stroke="#131315" stroke-width="0.45"/><rect x="272.18" y="121.34" width="1.35" height="0.71" fill="#131315"/><line x1="274.15" y1="119.29" x2="274.15" y2="122.84" stroke="#7c7d83" stroke-width="0.45"/><rect x="273.48" y="119.59" width="1.35" height="2.45" fill="#7c7d83"/><line x1="275.45" y1="114.16" x2="275.45" y2="120.41" stroke="#7c7d83" stroke-width="0.45"/><rect x="274.78" y="116.04" width="1.35" height="3.55" fill="#7c7d83"/><line x1="276.75" y1="110.01" x2="276.75" y2="116.05" stroke="#7c7d83" stroke-width="0.45"/><rect x="276.08" y="110.13" width="1.35" height="5.91" fill="#7c7d83"/><line x1="278.05" y1="105.75" x2="278.05" y2="110.82" stroke="#7c7d83" stroke-width="0.45"/><rect x="277.38" y="108.10" width="1.35" height="2.03" fill="#7c7d83"/><line x1="279.35" y1="107.85" x2="279.35" y2="109.34" stroke="#131315" stroke-width="0.45"/><rect x="278.68" y="108.10" width="1.35" height="0.60" fill="#131315"/><line x1="280.65" y1="107.87" x2="280.65" y2="109.35" stroke="#131315" stroke-width="0.45"/><rect x="279.98" y="108.61" width="1.35" height="0.60" fill="#131315"/><line x1="281.95" y1="108.80" x2="281.95" y2="111.61" stroke="#131315" stroke-width="0.45"/><rect x="281.28" y="108.81" width="1.35" height="2.55" fill="#131315"/><line x1="283.25" y1="107.76" x2="283.25" y2="111.68" stroke="#7c7d83" stroke-width="0.45"/><rect x="282.58" y="108.10" width="1.35" height="3.27" fill="#7c7d83"/><line x1="284.55" y1="101.02" x2="284.55" y2="108.46" stroke="#7c7d83" stroke-width="0.45"/><rect x="283.88" y="102.56" width="1.35" height="5.53" fill="#7c7d83"/><line x1="285.85" y1="98.42" x2="285.85" y2="103.58" stroke="#7c7d83" stroke-width="0.45"/><rect x="285.18" y="99.45" width="1.35" height="3.12" fill="#7c7d83"/><line x1="287.15" y1="96.71" x2="287.15" y2="100.49" stroke="#7c7d83" stroke-width="0.45"/><rect x="286.48" y="97.82" width="1.35" height="1.63" fill="#7c7d83"/><line x1="288.45" y1="96.07" x2="288.45" y2="97.94" stroke="#7c7d83" stroke-width="0.45"/><rect x="287.78" y="97.43" width="1.35" height="0.60" fill="#7c7d83"/><line x1="289.75" y1="92.34" x2="289.75" y2="97.47" stroke="#7c7d83" stroke-width="0.45"/><rect x="289.08" y="94.25" width="1.35" height="3.18" fill="#7c7d83"/><line x1="291.05" y1="88.03" x2="291.05" y2="95.71" stroke="#7c7d83" stroke-width="0.45"/><rect x="290.38" y="89.72" width="1.35" height="4.53" fill="#7c7d83"/><line x1="292.35" y1="73.96" x2="292.35" y2="89.73" stroke="#7c7d83" stroke-width="0.45"/><rect x="291.68" y="75.41" width="1.35" height="14.31" fill="#7c7d83"/><line x1="293.65" y1="66.60" x2="293.65" y2="76.73" stroke="#7c7d83" stroke-width="0.45"/><rect x="292.98" y="66.61" width="1.35" height="8.80" fill="#7c7d83"/><line x1="294.95" y1="62.39" x2="294.95" y2="66.89" stroke="#7c7d83" stroke-width="0.45"/><rect x="294.28" y="62.83" width="1.35" height="3.78" fill="#7c7d83"/><line x1="296.25" y1="57.58" x2="296.25" y2="62.83" stroke="#7c7d83" stroke-width="0.45"/><rect x="295.58" y="59.51" width="1.35" height="3.32" fill="#7c7d83"/><line x1="297.55" y1="57.64" x2="297.55" y2="61.41" stroke="#131315" stroke-width="0.45"/><rect x="296.88" y="59.51" width="1.35" height="1.51" fill="#131315"/><line x1="298.85" y1="60.99" x2="298.85" y2="64.87" stroke="#131315" stroke-width="0.45"/><rect x="298.18" y="61.02" width="1.35" height="3.54" fill="#131315"/><line x1="300.15" y1="63.56" x2="300.15" y2="69.86" stroke="#131315" stroke-width="0.45"/><rect x="299.48" y="64.56" width="1.35" height="3.75" fill="#131315"/><line x1="301.45" y1="68.31" x2="301.45" y2="71.05" stroke="#131315" stroke-width="0.45"/><rect x="300.78" y="68.31" width="1.35" height="1.36" fill="#131315"/><line x1="302.75" y1="68.86" x2="302.75" y2="70.95" stroke="#7c7d83" stroke-width="0.45"/><rect x="302.08" y="68.88" width="1.35" height="0.78" fill="#7c7d83"/><line x1="304.05" y1="68.19" x2="304.05" y2="68.93" stroke="#131315" stroke-width="0.45"/><rect x="303.38" y="68.88" width="1.35" height="0.60" fill="#131315"/><line x1="305.35" y1="68.63" x2="305.35" y2="71.99" stroke="#131315" stroke-width="0.45"/><rect x="304.68" y="68.93" width="1.35" height="1.99" fill="#131315"/><line x1="306.65" y1="70.72" x2="306.65" y2="73.22" stroke="#131315" stroke-width="0.45"/><rect x="305.98" y="70.91" width="1.35" height="2.27" fill="#131315"/><line x1="307.95" y1="68.33" x2="307.95" y2="74.49" stroke="#7c7d83" stroke-width="0.45"/><rect x="307.28" y="69.59" width="1.35" height="3.60" fill="#7c7d83"/><line x1="309.25" y1="59.04" x2="309.25" y2="69.77" stroke="#7c7d83" stroke-width="0.45"/><rect x="308.58" y="60.50" width="1.35" height="9.09" fill="#7c7d83"/><line x1="310.55" y1="54.21" x2="310.55" y2="60.62" stroke="#7c7d83" stroke-width="0.45"/><rect x="309.88" y="54.57" width="1.35" height="5.93" fill="#7c7d83"/><line x1="311.85" y1="53.42" x2="311.85" y2="54.79" stroke="#7c7d83" stroke-width="0.45"/><rect x="311.18" y="54.04" width="1.35" height="0.60" fill="#7c7d83"/><line x1="313.15" y1="53.81" x2="313.15" y2="55.82" stroke="#131315" stroke-width="0.45"/><rect x="312.48" y="54.04" width="1.35" height="0.60" fill="#131315"/><line x1="314.45" y1="52.76" x2="314.45" y2="57.39" stroke="#131315" stroke-width="0.45"/><rect x="313.78" y="54.59" width="1.35" height="2.11" fill="#131315"/><line x1="315.75" y1="56.68" x2="315.75" y2="58.75" stroke="#131315" stroke-width="0.45"/><rect x="315.08" y="56.71" width="1.35" height="0.72" fill="#131315"/><line x1="317.05" y1="54.70" x2="317.05" y2="59.38" stroke="#7c7d83" stroke-width="0.45"/><rect x="316.38" y="55.10" width="1.35" height="2.32" fill="#7c7d83"/><line x1="318.35" y1="51.35" x2="318.35" y2="56.49" stroke="#7c7d83" stroke-width="0.45"/><rect x="317.68" y="52.38" width="1.35" height="2.72" fill="#7c7d83"/><line x1="319.65" y1="51.22" x2="319.65" y2="54.80" stroke="#131315" stroke-width="0.45"/><rect x="318.98" y="52.38" width="1.35" height="1.84" fill="#131315"/><line x1="320.95" y1="52.53" x2="320.95" y2="56.18" stroke="#7c7d83" stroke-width="0.45"/><rect x="320.28" y="54.14" width="1.35" height="0.60" fill="#7c7d83"/><line x1="322.25" y1="52.17" x2="322.25" y2="54.19" stroke="#7c7d83" stroke-width="0.45"/><rect x="321.58" y="52.34" width="1.35" height="1.80" fill="#7c7d83"/><line x1="323.55" y1="50.71" x2="323.55" y2="52.88" stroke="#7c7d83" stroke-width="0.45"/><rect x="322.88" y="50.99" width="1.35" height="1.35" fill="#7c7d83"/><line x1="324.85" y1="50.18" x2="324.85" y2="52.68" stroke="#131315" stroke-width="0.45"/><rect x="324.18" y="50.99" width="1.35" height="1.46" fill="#131315"/><line x1="326.15" y1="51.78" x2="326.15" y2="53.80" stroke="#131315" stroke-width="0.45"/><rect x="325.48" y="52.44" width="1.35" height="0.94" fill="#131315"/><line x1="327.45" y1="52.05" x2="327.45" y2="54.65" stroke="#131315" stroke-width="0.45"/><rect x="326.78" y="53.38" width="1.35" height="0.60" fill="#131315"/><line x1="328.75" y1="53.07" x2="328.75" y2="53.62" stroke="#7c7d83" stroke-width="0.45"/><rect x="328.08" y="53.27" width="1.35" height="0.60" fill="#7c7d83"/><line x1="330.05" y1="51.68" x2="330.05" y2="53.48" stroke="#7c7d83" stroke-width="0.45"/><rect x="329.38" y="51.93" width="1.35" height="1.34" fill="#7c7d83"/><line x1="331.35" y1="48.58" x2="331.35" y2="52.43" stroke="#7c7d83" stroke-width="0.45"/><rect x="330.68" y="50.13" width="1.35" height="1.81" fill="#7c7d83"/><line x1="332.65" y1="46.85" x2="332.65" y2="50.17" stroke="#7c7d83" stroke-width="0.45"/><rect x="331.98" y="47.40" width="1.35" height="2.72" fill="#7c7d83"/><line x1="333.95" y1="40.60" x2="333.95" y2="47.62" stroke="#7c7d83" stroke-width="0.45"/><rect x="333.28" y="42.27" width="1.35" height="5.13" fill="#7c7d83"/><line x1="335.25" y1="40.19" x2="335.25" y2="49.90" stroke="#131315" stroke-width="0.45"/><rect x="334.58" y="42.27" width="1.35" height="7.62" fill="#131315"/><line x1="336.55" y1="47.28" x2="336.55" y2="50.35" stroke="#7c7d83" stroke-width="0.45"/><rect x="335.88" y="49.56" width="1.35" height="0.60" fill="#7c7d83"/><line x1="337.85" y1="47.48" x2="337.85" y2="51.28" stroke="#7c7d83" stroke-width="0.45"/><rect x="337.18" y="49.15" width="1.35" height="0.60" fill="#7c7d83"/><line x1="339.15" y1="42.03" x2="339.15" y2="51.03" stroke="#7c7d83" stroke-width="0.45"/><rect x="338.48" y="43.91" width="1.35" height="5.24" fill="#7c7d83"/><line x1="340.45" y1="39.69" x2="340.45" y2="45.61" stroke="#7c7d83" stroke-width="0.45"/><rect x="339.78" y="42.88" width="1.35" height="1.03" fill="#7c7d83"/><line x1="341.75" y1="41.60" x2="341.75" y2="49.91" stroke="#131315" stroke-width="0.45"/><rect x="341.08" y="42.88" width="1.35" height="6.99" fill="#131315"/><line x1="343.05" y1="49.33" x2="343.05" y2="59.21" stroke="#131315" stroke-width="0.45"/><rect x="342.38" y="49.88" width="1.35" height="8.68" fill="#131315"/><line x1="344.35" y1="56.58" x2="344.35" y2="60.13" stroke="#131315" stroke-width="0.45"/><rect x="343.68" y="58.55" width="1.35" height="0.60" fill="#131315"/><line x1="345.65" y1="57.65" x2="345.65" y2="61.25" stroke="#131315" stroke-width="0.45"/><rect x="344.98" y="58.64" width="1.35" height="1.50" fill="#131315"/><line x1="346.95" y1="57.91" x2="346.95" y2="62.28" stroke="#7c7d83" stroke-width="0.45"/><rect x="346.28" y="58.17" width="1.35" height="1.97" fill="#7c7d83"/><line x1="348.25" y1="52.12" x2="348.25" y2="58.49" stroke="#7c7d83" stroke-width="0.45"/><rect x="347.58" y="52.95" width="1.35" height="5.22" fill="#7c7d83"/><line x1="349.55" y1="45.99" x2="349.55" y2="54.87" stroke="#7c7d83" stroke-width="0.45"/><rect x="348.88" y="46.42" width="1.35" height="6.53" fill="#7c7d83"/><line x1="350.85" y1="42.44" x2="350.85" y2="46.48" stroke="#7c7d83" stroke-width="0.45"/><rect x="350.18" y="43.01" width="1.35" height="3.41" fill="#7c7d83"/><line x1="352.15" y1="42.54" x2="352.15" y2="43.96" stroke="#7c7d83" stroke-width="0.45"/><rect x="351.48" y="42.58" width="1.35" height="0.60" fill="#7c7d83"/><line x1="353.45" y1="41.41" x2="353.45" y2="44.23" stroke="#7c7d83" stroke-width="0.45"/><rect x="352.78" y="42.04" width="1.35" height="0.60" fill="#7c7d83"/><line x1="354.75" y1="39.43" x2="354.75" y2="42.38" stroke="#7c7d83" stroke-width="0.45"/><rect x="354.08" y="39.50" width="1.35" height="2.54" fill="#7c7d83"/><line x1="356.05" y1="37.05" x2="356.05" y2="39.51" stroke="#7c7d83" stroke-width="0.45"/><rect x="355.38" y="38.11" width="1.35" height="1.39" fill="#7c7d83"/><line x1="357.35" y1="33.10" x2="357.35" y2="38.71" stroke="#7c7d83" stroke-width="0.45"/><rect x="356.68" y="33.12" width="1.35" height="4.99" fill="#7c7d83"/><line x1="358.65" y1="31.06" x2="358.65" y2="33.14" stroke="#7c7d83" stroke-width="0.45"/><rect x="357.98" y="31.20" width="1.35" height="1.91" fill="#7c7d83"/><line x1="359.95" y1="30.46" x2="359.95" y2="32.00" stroke="#7c7d83" stroke-width="0.45"/><rect x="359.28" y="30.59" width="1.35" height="0.61" fill="#7c7d83"/><line x1="361.25" y1="29.55" x2="361.25" y2="30.61" stroke="#7c7d83" stroke-width="0.45"/><rect x="360.58" y="30.22" width="1.35" height="0.60" fill="#7c7d83"/><line x1="362.55" y1="30.14" x2="362.55" y2="32.15" stroke="#7c7d83" stroke-width="0.45"/><rect x="361.88" y="30.15" width="1.35" height="0.60" fill="#7c7d83"/><line x1="363.85" y1="28.55" x2="363.85" y2="30.21" stroke="#7c7d83" stroke-width="0.45"/><rect x="363.18" y="29.38" width="1.35" height="0.77" fill="#7c7d83"/><line x1="365.15" y1="26.91" x2="365.15" y2="29.38" stroke="#7c7d83" stroke-width="0.45"/><rect x="364.48" y="28.40" width="1.35" height="0.98" fill="#7c7d83"/><line x1="366.45" y1="28.13" x2="366.45" y2="33.75" stroke="#131315" stroke-width="0.45"/><rect x="365.78" y="28.40" width="1.35" height="3.92" fill="#131315"/><line x1="367.75" y1="31.31" x2="367.75" y2="34.36" stroke="#131315" stroke-width="0.45"/><rect x="367.08" y="32.32" width="1.35" height="1.42" fill="#131315"/></g>
<g font-family="Liberation Sans, sans-serif" fill="#505156" font-size="3.1px" text-rendering="geometricPrecision">
<text x="218.2" y="53.2" font-weight="700" textLength="22" lengthAdjust="spacingAndGlyphs">Buyside Liquidity</text>
<text x="151.5" y="100.4" font-weight="700" textLength="21.5" lengthAdjust="spacingAndGlyphs">Buyside Liquidity</text>
<text x="135.7" y="129.6" font-weight="700" textLength="21.4" lengthAdjust="spacingAndGlyphs">Buyside Liquidity</text>
<text x="97" y="196.6" font-weight="700" textLength="13.5" lengthAdjust="spacingAndGlyphs">Daily BPR</text>
<text x="57" y="154" font-style="italic" textLength="42" lengthAdjust="spacingAndGlyphs">Consolidation building orders</text>
<text x="177.2" font-style="italic" y="170.6" textLength="52.2" lengthAdjust="spacingAndGlyphs">Strong move lower taking the sellside</text>
<text x="177.2" font-style="italic" y="173.6" textLength="58.8" lengthAdjust="spacingAndGlyphs">and running into the HTF PDA (Daily BPR).</text>
<text x="177.2" font-style="italic" y="176.7" textLength="59.4" lengthAdjust="spacingAndGlyphs">We had a quick reversal with displacement</text>
<text x="177.2" font-style="italic" y="179.9" textLength="74.4" lengthAdjust="spacingAndGlyphs">with imbalances showing that the liquidity was taken.</text>
<text x="177.2" font-style="italic" y="183.1" textLength="67.2" lengthAdjust="spacingAndGlyphs">Price then targets all the buyside liquidity pools.</text>
</g>
</svg>
<svg class="ch" style="left:4px;top:269px" width="364" height="193" viewBox="4 269 364 193">
<rect x="4" y="269" width="364" height="193" fill="#babdc6"/>
<rect x="30" y="335.4" width="183.8" height="59.3" fill="#9bb1b3"/>
<rect x="205" y="395" width="18.3" height="23.5" fill="#caa8b0"/>
<rect x="322" y="314.7" width="23.2" height="17.8" fill="#caa8b0"/>
<g stroke="#86878e" stroke-width="0.55">
<line x1="81.6" y1="333.5" x2="322" y2="333.5"/>
<line x1="72" y1="397.5" x2="205" y2="397.5"/>
<line x1="63.8" y1="327.7" x2="69" y2="340.7"/>
<line x1="269.5" y1="430.6" x2="345.2" y2="369.6" stroke="#7a7b82"/>
<path d="M345.4 369.4 L342.9 369.9 L344.7 371.8 Z" fill="#7a7b82" stroke="none"/>
</g>
<g stroke="#3c3d42" stroke-width="0.8"><line x1="107" y1="378.6" x2="107" y2="392.7"/><line x1="274.9" y1="366.7" x2="274.9" y2="392"/><line x1="305.5" y1="391.6" x2="305.5" y2="396.3"/><line x1="340.4" y1="346.6" x2="340.4" y2="355"/><line x1="364" y1="365.6" x2="364" y2="376"/><line x1="241" y1="372.6" x2="241" y2="388"/><line x1="18.5" y1="410" x2="18.5" y2="423"/><line x1="28.2" y1="392.8" x2="28.2" y2="420"/></g>
<g stroke-width="1.0" stroke-linecap="round"><line x1="4.6" y1="396.4" x2="6.7" y2="393.9" stroke="#6c6d73"/><line x1="6.7" y1="393.9" x2="8.2" y2="397.5" stroke="#141416"/><line x1="8.2" y1="397.5" x2="9.8" y2="404.6" stroke="#141416"/><line x1="9.8" y1="404.6" x2="11.8" y2="409.8" stroke="#141416"/><line x1="11.8" y1="409.8" x2="12.8" y2="402.6" stroke="#6c6d73"/><line x1="12.8" y1="402.6" x2="14.4" y2="397" stroke="#6c6d73"/><line x1="14.4" y1="397" x2="15.9" y2="399" stroke="#141416"/><line x1="15.9" y1="399" x2="17.5" y2="403.6" stroke="#141416"/><line x1="17.5" y1="403.6" x2="18.5" y2="410.8" stroke="#141416"/><line x1="18.5" y1="410.8" x2="20.5" y2="411.8" stroke="#141416"/><line x1="20.5" y1="411.8" x2="21.6" y2="412.9" stroke="#141416"/><line x1="21.6" y1="412.9" x2="22.6" y2="406.7" stroke="#6c6d73"/><line x1="22.6" y1="406.7" x2="24.1" y2="403.6" stroke="#6c6d73"/><line x1="24.1" y1="403.6" x2="25.2" y2="410.8" stroke="#141416"/><line x1="25.2" y1="410.8" x2="26.2" y2="404.6" stroke="#6c6d73"/><line x1="26.2" y1="404.6" x2="27.2" y2="402.6" stroke="#6c6d73"/><line x1="27.2" y1="402.6" x2="29.3" y2="405.7" stroke="#141416"/><line x1="29.3" y1="405.7" x2="30.3" y2="407.2" stroke="#141416"/><line x1="30.3" y1="407.2" x2="31.8" y2="409.8" stroke="#141416"/><line x1="31.8" y1="409.8" x2="32.9" y2="414.9" stroke="#141416"/><line x1="32.9" y1="414.9" x2="33.9" y2="422.1" stroke="#141416"/><line x1="33.9" y1="422.1" x2="34.7" y2="423" stroke="#141416"/><line x1="34.7" y1="423" x2="35.4" y2="394.4" stroke="#6c6d73"/><line x1="35.4" y1="394.4" x2="35.9" y2="388.2" stroke="#6c6d73"/><line x1="35.9" y1="388.2" x2="37" y2="385.1" stroke="#6c6d73"/><line x1="37" y1="385.1" x2="38" y2="380" stroke="#6c6d73"/><line x1="38" y1="380" x2="39" y2="345.5" stroke="#6c6d73"/><line x1="39" y1="345.5" x2="41.4" y2="351.4" stroke="#141416"/><line x1="41.4" y1="351.4" x2="42.6" y2="345.5" stroke="#6c6d73"/><line x1="42.6" y1="345.5" x2="43.7" y2="364.4" stroke="#141416"/><line x1="43.7" y1="364.4" x2="47.3" y2="376.2" stroke="#141416"/><line x1="47.3" y1="376.2" x2="49.6" y2="385.6" stroke="#141416"/><line x1="49.6" y1="385.6" x2="53.2" y2="357.3" stroke="#6c6d73"/><line x1="53.2" y1="357.3" x2="55.5" y2="362" stroke="#141416"/><line x1="55.5" y1="362" x2="58" y2="383.3" stroke="#141416"/><line x1="58" y1="383.3" x2="61.5" y2="390.4" stroke="#141416"/><line x1="61.5" y1="390.4" x2="63.8" y2="373.8" stroke="#6c6d73"/><line x1="63.8" y1="373.8" x2="68.6" y2="366.7" stroke="#6c6d73"/><line x1="68.6" y1="366.7" x2="71" y2="370.3" stroke="#141416"/><line x1="71" y1="370.3" x2="76.8" y2="360.8" stroke="#6c6d73"/><line x1="76.8" y1="360.8" x2="79.2" y2="343" stroke="#6c6d73"/><line x1="79.2" y1="343" x2="80.6" y2="336" stroke="#6c6d73"/><line x1="80.6" y1="336" x2="81.6" y2="334" stroke="#6c6d73"/><line x1="81.6" y1="334" x2="82.4" y2="340" stroke="#141416"/><line x1="82.4" y1="340" x2="84" y2="357.3" stroke="#141416"/><line x1="84" y1="357.3" x2="86.3" y2="351.4" stroke="#6c6d73"/><line x1="86.3" y1="351.4" x2="88.7" y2="364.4" stroke="#141416"/><line x1="88.7" y1="364.4" x2="89.8" y2="352.6" stroke="#6c6d73"/><line x1="89.8" y1="352.6" x2="91.2" y2="360.8" stroke="#141416"/><line x1="91.2" y1="360.8" x2="92.4" y2="385.6" stroke="#141416"/><line x1="92.4" y1="385.6" x2="94.7" y2="390.4" stroke="#141416"/><line x1="94.7" y1="390.4" x2="98.3" y2="385.6" stroke="#6c6d73"/><line x1="98.3" y1="385.6" x2="99.5" y2="378.6" stroke="#6c6d73"/><line x1="99.5" y1="378.6" x2="101.8" y2="363.2" stroke="#6c6d73"/><line x1="101.8" y1="363.2" x2="104.2" y2="372.6" stroke="#141416"/><line x1="104.2" y1="372.6" x2="106.5" y2="378.6" stroke="#141416"/><line x1="106.5" y1="378.6" x2="108.9" y2="360.8" stroke="#6c6d73"/><line x1="108.9" y1="360.8" x2="111.3" y2="366.7" stroke="#141416"/><line x1="111.3" y1="366.7" x2="113.6" y2="352.6" stroke="#6c6d73"/><line x1="113.6" y1="352.6" x2="116" y2="356" stroke="#141416"/><line x1="116" y1="356" x2="119.5" y2="366.7" stroke="#141416"/><line x1="119.5" y1="366.7" x2="122" y2="369" stroke="#141416"/><line x1="122" y1="369" x2="124.3" y2="356" stroke="#6c6d73"/><line x1="124.3" y1="356" x2="126.6" y2="349" stroke="#6c6d73"/><line x1="126.6" y1="349" x2="129" y2="346.6" stroke="#6c6d73"/><line x1="129" y1="346.6" x2="131.4" y2="351.4" stroke="#141416"/><line x1="131.4" y1="351.4" x2="135" y2="355" stroke="#141416"/><line x1="135" y1="355" x2="138.5" y2="360.8" stroke="#141416"/><line x1="138.5" y1="360.8" x2="140.8" y2="376.2" stroke="#141416"/><line x1="140.8" y1="376.2" x2="143.2" y2="385.6" stroke="#141416"/><line x1="143.2" y1="385.6" x2="145.6" y2="392.7" stroke="#141416"/><line x1="145.6" y1="392.7" x2="146.7" y2="373.8" stroke="#6c6d73"/><line x1="146.7" y1="373.8" x2="150.3" y2="371.5" stroke="#6c6d73"/><line x1="150.3" y1="371.5" x2="152.6" y2="379.7" stroke="#141416"/><line x1="152.6" y1="379.7" x2="155" y2="368" stroke="#6c6d73"/><line x1="155" y1="368" x2="158.6" y2="369" stroke="#141416"/><line x1="158.6" y1="369" x2="161" y2="363.2" stroke="#6c6d73"/><line x1="161" y1="363.2" x2="164.5" y2="359.6" stroke="#6c6d73"/><line x1="164.5" y1="359.6" x2="165.7" y2="366.7" stroke="#141416"/><line x1="165.7" y1="366.7" x2="168" y2="381" stroke="#141416"/><line x1="168" y1="381" x2="170.4" y2="352.6" stroke="#6c6d73"/><line x1="170.4" y1="352.6" x2="171.6" y2="349" stroke="#6c6d73"/><line x1="171.6" y1="349" x2="174" y2="359.6" stroke="#141416"/><line x1="174" y1="359.6" x2="176.3" y2="359.6" stroke="#6c6d73"/><line x1="176.3" y1="359.6" x2="178.7" y2="371.5" stroke="#141416"/><line x1="178.7" y1="371.5" x2="181" y2="353.7" stroke="#6c6d73"/><line x1="181" y1="353.7" x2="183.4" y2="366.7" stroke="#141416"/><line x1="183.4" y1="366.7" x2="186" y2="371.5" stroke="#141416"/><line x1="186" y1="371.5" x2="188.3" y2="365.6" stroke="#6c6d73"/><line x1="188.3" y1="365.6" x2="190.6" y2="376.2" stroke="#141416"/><line x1="190.6" y1="376.2" x2="191.8" y2="381" stroke="#141416"/><line x1="191.8" y1="381" x2="194.2" y2="370.3" stroke="#6c6d73"/><line x1="194.2" y1="370.3" x2="196.5" y2="375" stroke="#141416"/><line x1="196.5" y1="375" x2="197.7" y2="360.8" stroke="#6c6d73"/><line x1="197.7" y1="360.8" x2="199" y2="372.6" stroke="#141416"/><line x1="199" y1="372.6" x2="201.3" y2="381" stroke="#141416"/><line x1="201.3" y1="381" x2="202.5" y2="357.3" stroke="#6c6d73"/><line x1="202.5" y1="357.3" x2="204.8" y2="353.7" stroke="#6c6d73"/><line x1="204.8" y1="353.7" x2="206" y2="350" stroke="#6c6d73"/><line x1="206" y1="350" x2="207.2" y2="378.6" stroke="#141416"/><line x1="207.2" y1="378.6" x2="208.4" y2="390.4" stroke="#141416"/><line x1="208.4" y1="390.4" x2="209.6" y2="395" stroke="#141416"/><line x1="209.6" y1="395" x2="210.7" y2="404.6" stroke="#141416"/><line x1="210.7" y1="404.6" x2="212" y2="414" stroke="#141416"/><line x1="212" y1="414" x2="214.3" y2="411.6" stroke="#6c6d73"/><line x1="214.3" y1="411.6" x2="216.6" y2="402" stroke="#6c6d73"/><line x1="216.6" y1="402" x2="217.8" y2="395" stroke="#6c6d73"/><line x1="217.8" y1="395" x2="220" y2="388" stroke="#6c6d73"/><line x1="220" y1="388" x2="222.6" y2="386.8" stroke="#6c6d73"/><line x1="222.6" y1="386.8" x2="225" y2="390.4" stroke="#141416"/><line x1="225" y1="390.4" x2="226" y2="402" stroke="#141416"/><line x1="226" y1="402" x2="228.5" y2="390.4" stroke="#6c6d73"/><line x1="228.5" y1="390.4" x2="230.8" y2="388" stroke="#6c6d73"/><line x1="230.8" y1="388" x2="233.2" y2="386.8" stroke="#6c6d73"/><line x1="233.2" y1="386.8" x2="236.7" y2="391.6" stroke="#141416"/><line x1="236.7" y1="391.6" x2="240.3" y2="388" stroke="#6c6d73"/><line x1="240.3" y1="388" x2="241" y2="372.6" stroke="#6c6d73"/><line x1="241" y1="372.6" x2="242.6" y2="397.5" stroke="#141416"/><line x1="242.6" y1="397.5" x2="243.8" y2="399.8" stroke="#141416"/><line x1="243.8" y1="399.8" x2="245" y2="409.3" stroke="#141416"/><line x1="245" y1="409.3" x2="246.2" y2="414" stroke="#141416"/><line x1="246.2" y1="414" x2="248.6" y2="407" stroke="#6c6d73"/><line x1="248.6" y1="407" x2="251" y2="405.7" stroke="#6c6d73"/><line x1="251" y1="405.7" x2="253.3" y2="397.5" stroke="#6c6d73"/><line x1="253.3" y1="397.5" x2="255.7" y2="405.7" stroke="#141416"/><line x1="255.7" y1="405.7" x2="259.2" y2="391.6" stroke="#6c6d73"/><line x1="259.2" y1="391.6" x2="261.6" y2="397.5" stroke="#141416"/><line x1="261.6" y1="397.5" x2="264" y2="401" stroke="#141416"/><line x1="264" y1="401" x2="266.3" y2="385.6" stroke="#6c6d73"/><line x1="266.3" y1="385.6" x2="267.5" y2="378.6" stroke="#6c6d73"/><line x1="267.5" y1="378.6" x2="269.8" y2="392.7" stroke="#141416"/><line x1="269.8" y1="392.7" x2="272.2" y2="389" stroke="#6c6d73"/><line x1="272.2" y1="389" x2="274.6" y2="383.3" stroke="#6c6d73"/><line x1="274.6" y1="383.3" x2="276" y2="381" stroke="#6c6d73"/><line x1="276" y1="381" x2="278.3" y2="378.6" stroke="#6c6d73"/><line x1="278.3" y1="378.6" x2="280.6" y2="370.3" stroke="#6c6d73"/><line x1="280.6" y1="370.3" x2="283" y2="376.2" stroke="#141416"/><line x1="283" y1="376.2" x2="285.4" y2="371.5" stroke="#6c6d73"/><line x1="285.4" y1="371.5" x2="289" y2="372.6" stroke="#141416"/><line x1="289" y1="372.6" x2="292.5" y2="375" stroke="#141416"/><line x1="292.5" y1="375" x2="294.8" y2="389" stroke="#141416"/><line x1="294.8" y1="389" x2="297.2" y2="378.6" stroke="#6c6d73"/><line x1="297.2" y1="378.6" x2="299.5" y2="377.4" stroke="#6c6d73"/><line x1="299.5" y1="377.4" x2="300.7" y2="390.4" stroke="#141416"/><line x1="300.7" y1="390.4" x2="303" y2="391.6" stroke="#141416"/><line x1="303" y1="391.6" x2="306.6" y2="381" stroke="#6c6d73"/><line x1="306.6" y1="381" x2="310.2" y2="376.2" stroke="#6c6d73"/><line x1="310.2" y1="376.2" x2="311.4" y2="370.3" stroke="#6c6d73"/><line x1="311.4" y1="370.3" x2="313.7" y2="373.8" stroke="#141416"/><line x1="313.7" y1="373.8" x2="316" y2="366.7" stroke="#6c6d73"/><line x1="316" y1="366.7" x2="318.5" y2="368" stroke="#141416"/><line x1="318.5" y1="368" x2="320.8" y2="359.6" stroke="#6c6d73"/><line x1="320.8" y1="359.6" x2="322" y2="353.7" stroke="#6c6d73"/><line x1="322" y1="353.7" x2="324.4" y2="359.6" stroke="#141416"/><line x1="324.4" y1="359.6" x2="325.6" y2="352.6" stroke="#6c6d73"/><line x1="325.6" y1="352.6" x2="326.7" y2="338.4" stroke="#6c6d73"/><line x1="326.7" y1="338.4" x2="328" y2="333.6" stroke="#6c6d73"/><line x1="328" y1="333.6" x2="329" y2="324" stroke="#6c6d73"/><line x1="329" y1="324" x2="330.3" y2="315.2" stroke="#6c6d73"/><line x1="330.3" y1="315.2" x2="331.5" y2="325.4" stroke="#141416"/><line x1="331.5" y1="325.4" x2="333.8" y2="326.5" stroke="#141416"/><line x1="333.8" y1="326.5" x2="335" y2="333.6" stroke="#141416"/><line x1="335" y1="333.6" x2="336.2" y2="339.5" stroke="#141416"/><line x1="336.2" y1="339.5" x2="337.4" y2="333.6" stroke="#6c6d73"/><line x1="337.4" y1="333.6" x2="339.7" y2="346.6" stroke="#141416"/><line x1="339.7" y1="346.6" x2="342" y2="340.7" stroke="#6c6d73"/><line x1="342" y1="340.7" x2="345.6" y2="340.7" stroke="#6c6d73"/><line x1="345.6" y1="340.7" x2="349" y2="337.2" stroke="#6c6d73"/><line x1="349" y1="337.2" x2="350.4" y2="345.5" stroke="#141416"/><line x1="350.4" y1="345.5" x2="351.6" y2="356" stroke="#141416"/><line x1="351.6" y1="356" x2="355" y2="358.5" stroke="#141416"/><line x1="355" y1="358.5" x2="358.7" y2="357.3" stroke="#6c6d73"/><line x1="358.7" y1="357.3" x2="361" y2="360.8" stroke="#141416"/><line x1="361" y1="360.8" x2="363.4" y2="365.6" stroke="#141416"/><line x1="363.4" y1="365.6" x2="365.7" y2="362" stroke="#6c6d73"/><line x1="365.7" y1="362" x2="367.6" y2="363.2" stroke="#141416"/></g>
<g><line x1="5.05" y1="394.39" x2="5.05" y2="397.93" stroke="#76777d" stroke-width="0.45"/><rect x="4.62" y="396.40" width="0.85" height="1.09" fill="#76777d"/><line x1="5.95" y1="392.79" x2="5.95" y2="396.71" stroke="#76777d" stroke-width="0.45"/><rect x="5.53" y="393.19" width="0.85" height="3.21" fill="#76777d"/><line x1="6.85" y1="393.17" x2="6.85" y2="394.97" stroke="#131315" stroke-width="0.45"/><rect x="6.43" y="393.19" width="0.85" height="1.15" fill="#131315"/><line x1="7.75" y1="394.26" x2="7.75" y2="398.89" stroke="#131315" stroke-width="0.45"/><rect x="7.33" y="394.34" width="0.85" height="3.96" fill="#131315"/><line x1="8.65" y1="398.05" x2="8.65" y2="404.46" stroke="#131315" stroke-width="0.45"/><rect x="8.22" y="398.31" width="0.85" height="3.75" fill="#131315"/><line x1="9.55" y1="399.51" x2="9.55" y2="406.11" stroke="#131315" stroke-width="0.45"/><rect x="9.12" y="402.06" width="0.85" height="3.47" fill="#131315"/><line x1="10.45" y1="404.30" x2="10.45" y2="409.59" stroke="#131315" stroke-width="0.45"/><rect x="10.03" y="405.53" width="0.85" height="1.47" fill="#131315"/><line x1="11.35" y1="406.68" x2="11.35" y2="410.08" stroke="#131315" stroke-width="0.45"/><rect x="10.93" y="407.00" width="0.85" height="3.05" fill="#131315"/><line x1="12.25" y1="403.41" x2="12.25" y2="410.16" stroke="#76777d" stroke-width="0.45"/><rect x="11.83" y="403.58" width="0.85" height="6.48" fill="#76777d"/><line x1="13.15" y1="398.61" x2="13.15" y2="404.00" stroke="#76777d" stroke-width="0.45"/><rect x="12.73" y="399.99" width="0.85" height="3.58" fill="#76777d"/><line x1="14.05" y1="395.93" x2="14.05" y2="401.89" stroke="#76777d" stroke-width="0.45"/><rect x="13.63" y="396.31" width="0.85" height="3.68" fill="#76777d"/><line x1="14.95" y1="396.15" x2="14.95" y2="400.13" stroke="#131315" stroke-width="0.45"/><rect x="14.53" y="396.31" width="0.85" height="1.85" fill="#131315"/><line x1="15.85" y1="396.97" x2="15.85" y2="400.38" stroke="#131315" stroke-width="0.45"/><rect x="15.43" y="398.17" width="0.85" height="1.73" fill="#131315"/><line x1="16.75" y1="397.86" x2="16.75" y2="403.62" stroke="#131315" stroke-width="0.45"/><rect x="16.33" y="399.89" width="0.85" height="3.38" fill="#131315"/><line x1="17.65" y1="400.96" x2="17.65" y2="411.68" stroke="#131315" stroke-width="0.45"/><rect x="17.23" y="403.27" width="0.85" height="5.83" fill="#131315"/><line x1="18.55" y1="408.35" x2="18.55" y2="413.56" stroke="#131315" stroke-width="0.45"/><rect x="18.12" y="409.11" width="0.85" height="3.02" fill="#131315"/><line x1="19.45" y1="408.91" x2="19.45" y2="413.78" stroke="#76777d" stroke-width="0.45"/><rect x="19.02" y="411.61" width="0.85" height="0.60" fill="#76777d"/><line x1="20.35" y1="409.91" x2="20.35" y2="414.23" stroke="#131315" stroke-width="0.45"/><rect x="19.92" y="411.61" width="0.85" height="0.60" fill="#131315"/><line x1="21.25" y1="409.10" x2="21.25" y2="414.60" stroke="#76777d" stroke-width="0.45"/><rect x="20.82" y="411.72" width="0.85" height="0.60" fill="#76777d"/><line x1="22.15" y1="402.71" x2="22.15" y2="411.98" stroke="#76777d" stroke-width="0.45"/><rect x="21.72" y="405.59" width="0.85" height="6.14" fill="#76777d"/><line x1="23.05" y1="402.54" x2="23.05" y2="408.05" stroke="#76777d" stroke-width="0.45"/><rect x="22.62" y="403.71" width="0.85" height="1.88" fill="#76777d"/><line x1="23.95" y1="403.19" x2="23.95" y2="405.95" stroke="#131315" stroke-width="0.45"/><rect x="23.52" y="403.71" width="0.85" height="1.77" fill="#131315"/><line x1="24.85" y1="405.39" x2="24.85" y2="413.55" stroke="#131315" stroke-width="0.45"/><rect x="24.42" y="405.48" width="0.85" height="4.26" fill="#131315"/><line x1="25.75" y1="403.94" x2="25.75" y2="410.43" stroke="#76777d" stroke-width="0.45"/><rect x="25.32" y="404.31" width="0.85" height="5.43" fill="#76777d"/><line x1="26.65" y1="401.34" x2="26.65" y2="404.70" stroke="#76777d" stroke-width="0.45"/><rect x="26.22" y="403.74" width="0.85" height="0.60" fill="#76777d"/><line x1="27.55" y1="399.83" x2="27.55" y2="403.89" stroke="#131315" stroke-width="0.45"/><rect x="27.12" y="403.74" width="0.85" height="0.60" fill="#131315"/><line x1="28.45" y1="403.84" x2="28.45" y2="405.62" stroke="#131315" stroke-width="0.45"/><rect x="28.02" y="403.84" width="0.85" height="1.41" fill="#131315"/><line x1="29.35" y1="404.87" x2="29.35" y2="408.34" stroke="#131315" stroke-width="0.45"/><rect x="28.92" y="405.25" width="0.85" height="0.60" fill="#131315"/><line x1="30.25" y1="403.48" x2="30.25" y2="408.94" stroke="#131315" stroke-width="0.45"/><rect x="29.82" y="405.82" width="0.85" height="0.93" fill="#131315"/><line x1="31.15" y1="406.18" x2="31.15" y2="409.92" stroke="#131315" stroke-width="0.45"/><rect x="30.72" y="406.75" width="0.85" height="2.28" fill="#131315"/><line x1="32.05" y1="408.87" x2="32.05" y2="414.26" stroke="#131315" stroke-width="0.45"/><rect x="31.62" y="409.03" width="0.85" height="3.14" fill="#131315"/><line x1="32.95" y1="411.72" x2="32.95" y2="418.77" stroke="#131315" stroke-width="0.45"/><rect x="32.52" y="412.17" width="0.85" height="6.35" fill="#131315"/><line x1="33.85" y1="417.30" x2="33.85" y2="423.81" stroke="#131315" stroke-width="0.45"/><rect x="33.42" y="418.52" width="0.85" height="5.22" fill="#131315"/><line x1="34.75" y1="402.69" x2="34.75" y2="426.32" stroke="#76777d" stroke-width="0.45"/><rect x="34.32" y="402.99" width="0.85" height="20.76" fill="#76777d"/><line x1="35.65" y1="386.85" x2="35.65" y2="403.05" stroke="#76777d" stroke-width="0.45"/><rect x="35.22" y="386.87" width="0.85" height="16.12" fill="#76777d"/><line x1="36.55" y1="385.92" x2="36.55" y2="387.06" stroke="#76777d" stroke-width="0.45"/><rect x="36.12" y="386.04" width="0.85" height="0.83" fill="#76777d"/><line x1="37.45" y1="380.69" x2="37.45" y2="386.23" stroke="#76777d" stroke-width="0.45"/><rect x="37.02" y="381.22" width="0.85" height="4.82" fill="#76777d"/><line x1="38.35" y1="352.61" x2="38.35" y2="381.40" stroke="#76777d" stroke-width="0.45"/><rect x="37.92" y="352.96" width="0.85" height="28.26" fill="#76777d"/><line x1="39.25" y1="345.33" x2="39.25" y2="354.08" stroke="#76777d" stroke-width="0.45"/><rect x="38.82" y="348.20" width="0.85" height="4.77" fill="#76777d"/><line x1="40.15" y1="347.86" x2="40.15" y2="350.48" stroke="#131315" stroke-width="0.45"/><rect x="39.72" y="348.20" width="0.85" height="1.87" fill="#131315"/><line x1="41.05" y1="348.30" x2="41.05" y2="351.62" stroke="#131315" stroke-width="0.45"/><rect x="40.62" y="350.06" width="0.85" height="1.54" fill="#131315"/><line x1="41.95" y1="346.07" x2="41.95" y2="353.78" stroke="#76777d" stroke-width="0.45"/><rect x="41.52" y="346.13" width="0.85" height="5.47" fill="#76777d"/><line x1="42.85" y1="344.95" x2="42.85" y2="360.50" stroke="#131315" stroke-width="0.45"/><rect x="42.42" y="346.13" width="0.85" height="12.55" fill="#131315"/><line x1="43.75" y1="358.63" x2="43.75" y2="367.97" stroke="#131315" stroke-width="0.45"/><rect x="43.32" y="358.68" width="0.85" height="8.47" fill="#131315"/><line x1="44.65" y1="365.00" x2="44.65" y2="368.52" stroke="#131315" stroke-width="0.45"/><rect x="44.22" y="367.15" width="0.85" height="1.03" fill="#131315"/><line x1="45.55" y1="366.41" x2="45.55" y2="373.67" stroke="#131315" stroke-width="0.45"/><rect x="45.12" y="368.18" width="0.85" height="4.37" fill="#131315"/><line x1="46.45" y1="372.08" x2="46.45" y2="378.39" stroke="#131315" stroke-width="0.45"/><rect x="46.02" y="372.55" width="0.85" height="2.86" fill="#131315"/><line x1="47.35" y1="374.94" x2="47.35" y2="378.82" stroke="#131315" stroke-width="0.45"/><rect x="46.92" y="375.41" width="0.85" height="2.75" fill="#131315"/><line x1="48.25" y1="377.00" x2="48.25" y2="382.30" stroke="#131315" stroke-width="0.45"/><rect x="47.82" y="378.15" width="0.85" height="3.84" fill="#131315"/><line x1="49.15" y1="379.89" x2="49.15" y2="386.65" stroke="#131315" stroke-width="0.45"/><rect x="48.72" y="381.99" width="0.85" height="3.58" fill="#131315"/><line x1="50.05" y1="378.51" x2="50.05" y2="386.47" stroke="#76777d" stroke-width="0.45"/><rect x="49.62" y="379.54" width="0.85" height="6.03" fill="#76777d"/><line x1="50.95" y1="368.54" x2="50.95" y2="382.48" stroke="#76777d" stroke-width="0.45"/><rect x="50.52" y="371.45" width="0.85" height="8.09" fill="#76777d"/><line x1="51.85" y1="363.05" x2="51.85" y2="372.07" stroke="#76777d" stroke-width="0.45"/><rect x="51.42" y="365.17" width="0.85" height="6.28" fill="#76777d"/><line x1="52.75" y1="356.44" x2="52.75" y2="366.00" stroke="#76777d" stroke-width="0.45"/><rect x="52.32" y="356.95" width="0.85" height="8.22" fill="#76777d"/><line x1="53.65" y1="356.94" x2="53.65" y2="360.09" stroke="#131315" stroke-width="0.45"/><rect x="53.22" y="356.95" width="0.85" height="3.11" fill="#131315"/><line x1="54.55" y1="357.09" x2="54.55" y2="361.99" stroke="#131315" stroke-width="0.45"/><rect x="54.12" y="360.06" width="0.85" height="1.88" fill="#131315"/><line x1="55.45" y1="359.30" x2="55.45" y2="366.70" stroke="#131315" stroke-width="0.45"/><rect x="55.02" y="361.94" width="0.85" height="3.38" fill="#131315"/><line x1="56.35" y1="362.80" x2="56.35" y2="373.26" stroke="#131315" stroke-width="0.45"/><rect x="55.92" y="365.31" width="0.85" height="7.92" fill="#131315"/><line x1="57.25" y1="372.96" x2="57.25" y2="383.66" stroke="#131315" stroke-width="0.45"/><rect x="56.82" y="373.24" width="0.85" height="8.51" fill="#131315"/><line x1="58.15" y1="381.75" x2="58.15" y2="385.09" stroke="#131315" stroke-width="0.45"/><rect x="57.72" y="381.75" width="0.85" height="3.30" fill="#131315"/><line x1="59.05" y1="384.69" x2="59.05" y2="386.40" stroke="#131315" stroke-width="0.45"/><rect x="58.62" y="385.05" width="0.85" height="1.26" fill="#131315"/><line x1="59.95" y1="386.25" x2="59.95" y2="388.85" stroke="#131315" stroke-width="0.45"/><rect x="59.52" y="386.31" width="0.85" height="1.19" fill="#131315"/><line x1="60.85" y1="387.48" x2="60.85" y2="392.40" stroke="#131315" stroke-width="0.45"/><rect x="60.42" y="387.50" width="0.85" height="2.07" fill="#131315"/><line x1="61.75" y1="384.56" x2="61.75" y2="390.41" stroke="#76777d" stroke-width="0.45"/><rect x="61.32" y="385.83" width="0.85" height="3.75" fill="#76777d"/><line x1="62.65" y1="375.63" x2="62.65" y2="386.00" stroke="#76777d" stroke-width="0.45"/><rect x="62.22" y="378.05" width="0.85" height="7.78" fill="#76777d"/><line x1="63.55" y1="373.10" x2="63.55" y2="378.99" stroke="#76777d" stroke-width="0.45"/><rect x="63.12" y="374.48" width="0.85" height="3.57" fill="#76777d"/><line x1="64.45" y1="371.56" x2="64.45" y2="375.24" stroke="#76777d" stroke-width="0.45"/><rect x="64.02" y="371.62" width="0.85" height="2.87" fill="#76777d"/><line x1="65.35" y1="371.61" x2="65.35" y2="371.95" stroke="#131315" stroke-width="0.45"/><rect x="64.92" y="371.62" width="0.85" height="0.60" fill="#131315"/><line x1="66.25" y1="366.52" x2="66.25" y2="373.86" stroke="#76777d" stroke-width="0.45"/><rect x="65.82" y="369.05" width="0.85" height="2.78" fill="#76777d"/><line x1="67.15" y1="368.23" x2="67.15" y2="370.67" stroke="#131315" stroke-width="0.45"/><rect x="66.72" y="369.05" width="0.85" height="0.60" fill="#131315"/><line x1="68.05" y1="365.04" x2="68.05" y2="369.34" stroke="#76777d" stroke-width="0.45"/><rect x="67.62" y="367.34" width="0.85" height="1.93" fill="#76777d"/><line x1="68.95" y1="365.97" x2="68.95" y2="367.96" stroke="#131315" stroke-width="0.45"/><rect x="68.52" y="367.34" width="0.85" height="0.60" fill="#131315"/><line x1="69.85" y1="367.87" x2="69.85" y2="369.33" stroke="#131315" stroke-width="0.45"/><rect x="69.42" y="367.91" width="0.85" height="1.38" fill="#131315"/><line x1="70.75" y1="369.16" x2="70.75" y2="370.34" stroke="#131315" stroke-width="0.45"/><rect x="70.32" y="369.29" width="0.85" height="1.04" fill="#131315"/><line x1="71.65" y1="368.57" x2="71.65" y2="370.77" stroke="#76777d" stroke-width="0.45"/><rect x="71.22" y="368.71" width="0.85" height="1.63" fill="#76777d"/><line x1="72.55" y1="365.41" x2="72.55" y2="370.92" stroke="#76777d" stroke-width="0.45"/><rect x="72.12" y="366.57" width="0.85" height="2.14" fill="#76777d"/><line x1="73.45" y1="362.40" x2="73.45" y2="368.12" stroke="#76777d" stroke-width="0.45"/><rect x="73.02" y="364.85" width="0.85" height="1.72" fill="#76777d"/><line x1="74.35" y1="363.33" x2="74.35" y2="367.37" stroke="#76777d" stroke-width="0.45"/><rect x="73.92" y="364.10" width="0.85" height="0.74" fill="#76777d"/><line x1="75.25" y1="363.56" x2="75.25" y2="364.14" stroke="#76777d" stroke-width="0.45"/><rect x="74.83" y="363.64" width="0.85" height="0.60" fill="#76777d"/><line x1="76.15" y1="359.42" x2="76.15" y2="364.82" stroke="#76777d" stroke-width="0.45"/><rect x="75.73" y="361.42" width="0.85" height="2.22" fill="#76777d"/><line x1="77.05" y1="354.46" x2="77.05" y2="361.85" stroke="#76777d" stroke-width="0.45"/><rect x="76.63" y="354.59" width="0.85" height="6.83" fill="#76777d"/><line x1="77.95" y1="349.44" x2="77.95" y2="355.15" stroke="#76777d" stroke-width="0.45"/><rect x="77.53" y="349.70" width="0.85" height="4.89" fill="#76777d"/><line x1="78.85" y1="342.45" x2="78.85" y2="350.18" stroke="#76777d" stroke-width="0.45"/><rect x="78.43" y="343.04" width="0.85" height="6.66" fill="#76777d"/><line x1="79.75" y1="337.07" x2="79.75" y2="345.02" stroke="#76777d" stroke-width="0.45"/><rect x="79.33" y="338.98" width="0.85" height="4.06" fill="#76777d"/><line x1="80.65" y1="333.31" x2="80.65" y2="339.65" stroke="#76777d" stroke-width="0.45"/><rect x="80.23" y="334.26" width="0.85" height="4.72" fill="#76777d"/><line x1="81.55" y1="333.76" x2="81.55" y2="339.34" stroke="#131315" stroke-width="0.45"/><rect x="81.13" y="334.26" width="0.85" height="3.33" fill="#131315"/><line x1="82.45" y1="334.67" x2="82.45" y2="344.50" stroke="#131315" stroke-width="0.45"/><rect x="82.03" y="337.59" width="0.85" height="6.76" fill="#131315"/><line x1="83.35" y1="342.86" x2="83.35" y2="356.97" stroke="#131315" stroke-width="0.45"/><rect x="82.93" y="344.35" width="0.85" height="11.16" fill="#131315"/><line x1="84.25" y1="353.66" x2="84.25" y2="357.30" stroke="#76777d" stroke-width="0.45"/><rect x="83.83" y="354.96" width="0.85" height="0.60" fill="#76777d"/><line x1="85.15" y1="351.63" x2="85.15" y2="355.08" stroke="#76777d" stroke-width="0.45"/><rect x="84.73" y="352.54" width="0.85" height="2.42" fill="#76777d"/><line x1="86.05" y1="351.29" x2="86.05" y2="354.39" stroke="#131315" stroke-width="0.45"/><rect x="85.63" y="352.54" width="0.85" height="0.84" fill="#131315"/><line x1="86.95" y1="352.14" x2="86.95" y2="357.59" stroke="#131315" stroke-width="0.45"/><rect x="86.53" y="353.38" width="0.85" height="3.03" fill="#131315"/><line x1="87.85" y1="354.76" x2="87.85" y2="363.77" stroke="#131315" stroke-width="0.45"/><rect x="87.43" y="356.41" width="0.85" height="5.87" fill="#131315"/><line x1="88.75" y1="359.21" x2="88.75" y2="364.41" stroke="#76777d" stroke-width="0.45"/><rect x="88.33" y="359.89" width="0.85" height="2.40" fill="#76777d"/><line x1="89.65" y1="350.81" x2="89.65" y2="361.92" stroke="#76777d" stroke-width="0.45"/><rect x="89.23" y="353.74" width="0.85" height="6.14" fill="#76777d"/><line x1="90.55" y1="351.65" x2="90.55" y2="360.01" stroke="#131315" stroke-width="0.45"/><rect x="90.13" y="353.74" width="0.85" height="5.19" fill="#131315"/><line x1="91.45" y1="358.93" x2="91.45" y2="376.30" stroke="#131315" stroke-width="0.45"/><rect x="91.03" y="358.93" width="0.85" height="17.25" fill="#131315"/><line x1="92.35" y1="376.14" x2="92.35" y2="387.46" stroke="#131315" stroke-width="0.45"/><rect x="91.93" y="376.18" width="0.85" height="10.07" fill="#131315"/><line x1="93.25" y1="385.36" x2="93.25" y2="388.94" stroke="#131315" stroke-width="0.45"/><rect x="92.83" y="386.25" width="0.85" height="2.58" fill="#131315"/><line x1="94.15" y1="386.09" x2="94.15" y2="391.94" stroke="#131315" stroke-width="0.45"/><rect x="93.73" y="388.83" width="0.85" height="0.60" fill="#131315"/><line x1="95.05" y1="386.58" x2="95.05" y2="391.05" stroke="#76777d" stroke-width="0.45"/><rect x="94.63" y="389.00" width="0.85" height="0.60" fill="#76777d"/><line x1="95.95" y1="387.09" x2="95.95" y2="389.13" stroke="#76777d" stroke-width="0.45"/><rect x="95.53" y="387.35" width="0.85" height="1.66" fill="#76777d"/><line x1="96.85" y1="385.31" x2="96.85" y2="388.82" stroke="#131315" stroke-width="0.45"/><rect x="96.43" y="387.35" width="0.85" height="0.60" fill="#131315"/><line x1="97.75" y1="384.50" x2="97.75" y2="389.79" stroke="#76777d" stroke-width="0.45"/><rect x="97.33" y="384.73" width="0.85" height="2.62" fill="#76777d"/><line x1="98.65" y1="381.05" x2="98.65" y2="386.11" stroke="#76777d" stroke-width="0.45"/><rect x="98.23" y="382.02" width="0.85" height="2.71" fill="#76777d"/><line x1="99.55" y1="373.60" x2="99.55" y2="383.58" stroke="#76777d" stroke-width="0.45"/><rect x="99.13" y="374.11" width="0.85" height="7.91" fill="#76777d"/><line x1="100.45" y1="369.15" x2="100.45" y2="375.42" stroke="#76777d" stroke-width="0.45"/><rect x="100.03" y="369.78" width="0.85" height="4.34" fill="#76777d"/><line x1="101.35" y1="362.01" x2="101.35" y2="371.26" stroke="#76777d" stroke-width="0.45"/><rect x="100.93" y="362.05" width="0.85" height="7.73" fill="#76777d"/><line x1="102.25" y1="361.83" x2="102.25" y2="368.63" stroke="#131315" stroke-width="0.45"/><rect x="101.83" y="362.05" width="0.85" height="4.09" fill="#131315"/><line x1="103.15" y1="366.00" x2="103.15" y2="371.34" stroke="#131315" stroke-width="0.45"/><rect x="102.73" y="366.14" width="0.85" height="4.86" fill="#131315"/><line x1="104.05" y1="370.13" x2="104.05" y2="373.06" stroke="#131315" stroke-width="0.45"/><rect x="103.63" y="371.00" width="0.85" height="1.56" fill="#131315"/><line x1="104.95" y1="371.73" x2="104.95" y2="377.53" stroke="#131315" stroke-width="0.45"/><rect x="104.53" y="372.56" width="0.85" height="2.41" fill="#131315"/><line x1="105.85" y1="374.85" x2="105.85" y2="380.33" stroke="#131315" stroke-width="0.45"/><rect x="105.43" y="374.97" width="0.85" height="3.57" fill="#131315"/><line x1="106.75" y1="371.69" x2="106.75" y2="380.45" stroke="#76777d" stroke-width="0.45"/><rect x="106.33" y="373.13" width="0.85" height="5.40" fill="#76777d"/><line x1="107.65" y1="365.04" x2="107.65" y2="373.75" stroke="#76777d" stroke-width="0.45"/><rect x="107.23" y="365.64" width="0.85" height="7.50" fill="#76777d"/><line x1="108.55" y1="360.44" x2="108.55" y2="366.31" stroke="#76777d" stroke-width="0.45"/><rect x="108.13" y="362.22" width="0.85" height="3.42" fill="#76777d"/><line x1="109.45" y1="362.03" x2="109.45" y2="362.53" stroke="#131315" stroke-width="0.45"/><rect x="109.03" y="362.22" width="0.85" height="0.60" fill="#131315"/><line x1="110.35" y1="361.74" x2="110.35" y2="364.47" stroke="#131315" stroke-width="0.45"/><rect x="109.93" y="362.42" width="0.85" height="1.94" fill="#131315"/><line x1="111.25" y1="363.21" x2="111.25" y2="367.69" stroke="#76777d" stroke-width="0.45"/><rect x="110.83" y="363.87" width="0.85" height="0.60" fill="#76777d"/><line x1="112.15" y1="358.72" x2="112.15" y2="363.96" stroke="#76777d" stroke-width="0.45"/><rect x="111.73" y="359.01" width="0.85" height="4.87" fill="#76777d"/><line x1="113.05" y1="352.70" x2="113.05" y2="361.23" stroke="#76777d" stroke-width="0.45"/><rect x="112.63" y="353.79" width="0.85" height="5.21" fill="#76777d"/><line x1="113.95" y1="352.45" x2="113.95" y2="354.93" stroke="#76777d" stroke-width="0.45"/><rect x="113.53" y="352.80" width="0.85" height="0.99" fill="#76777d"/><line x1="114.85" y1="351.50" x2="114.85" y2="356.97" stroke="#131315" stroke-width="0.45"/><rect x="114.43" y="352.80" width="0.85" height="1.81" fill="#131315"/><line x1="115.75" y1="353.22" x2="115.75" y2="356.28" stroke="#131315" stroke-width="0.45"/><rect x="115.33" y="354.62" width="0.85" height="0.87" fill="#131315"/><line x1="116.65" y1="355.36" x2="116.65" y2="361.34" stroke="#131315" stroke-width="0.45"/><rect x="116.23" y="355.49" width="0.85" height="3.75" fill="#131315"/><line x1="117.55" y1="358.97" x2="117.55" y2="362.75" stroke="#131315" stroke-width="0.45"/><rect x="117.13" y="359.24" width="0.85" height="3.51" fill="#131315"/><line x1="118.45" y1="360.48" x2="118.45" y2="365.56" stroke="#131315" stroke-width="0.45"/><rect x="118.03" y="362.75" width="0.85" height="2.69" fill="#131315"/><line x1="119.35" y1="365.15" x2="119.35" y2="368.25" stroke="#131315" stroke-width="0.45"/><rect x="118.93" y="365.44" width="0.85" height="2.50" fill="#131315"/><line x1="120.25" y1="367.74" x2="120.25" y2="369.99" stroke="#131315" stroke-width="0.45"/><rect x="119.83" y="367.94" width="0.85" height="0.60" fill="#131315"/><line x1="121.15" y1="368.06" x2="121.15" y2="370.08" stroke="#131315" stroke-width="0.45"/><rect x="120.73" y="368.42" width="0.85" height="1.08" fill="#131315"/><line x1="122.05" y1="366.14" x2="122.05" y2="371.59" stroke="#76777d" stroke-width="0.45"/><rect x="121.63" y="366.67" width="0.85" height="2.84" fill="#76777d"/><line x1="122.95" y1="361.02" x2="122.95" y2="367.68" stroke="#76777d" stroke-width="0.45"/><rect x="122.53" y="361.02" width="0.85" height="5.65" fill="#76777d"/><line x1="123.85" y1="355.29" x2="123.85" y2="361.09" stroke="#76777d" stroke-width="0.45"/><rect x="123.43" y="355.34" width="0.85" height="5.68" fill="#76777d"/><line x1="124.75" y1="352.54" x2="124.75" y2="355.76" stroke="#76777d" stroke-width="0.45"/><rect x="124.33" y="353.65" width="0.85" height="1.69" fill="#76777d"/><line x1="125.65" y1="350.07" x2="125.65" y2="354.68" stroke="#76777d" stroke-width="0.45"/><rect x="125.23" y="350.08" width="0.85" height="3.57" fill="#76777d"/><line x1="126.55" y1="345.14" x2="126.55" y2="351.33" stroke="#76777d" stroke-width="0.45"/><rect x="126.13" y="347.64" width="0.85" height="2.44" fill="#76777d"/><line x1="127.45" y1="346.84" x2="127.45" y2="349.57" stroke="#76777d" stroke-width="0.45"/><rect x="127.03" y="347.57" width="0.85" height="0.60" fill="#76777d"/><line x1="128.35" y1="345.06" x2="128.35" y2="347.77" stroke="#131315" stroke-width="0.45"/><rect x="127.93" y="347.57" width="0.85" height="0.60" fill="#131315"/><line x1="129.25" y1="346.33" x2="129.25" y2="350.49" stroke="#76777d" stroke-width="0.45"/><rect x="128.83" y="347.11" width="0.85" height="0.60" fill="#76777d"/><line x1="130.15" y1="344.53" x2="130.15" y2="350.13" stroke="#131315" stroke-width="0.45"/><rect x="129.73" y="347.11" width="0.85" height="2.90" fill="#131315"/><line x1="131.05" y1="348.52" x2="131.05" y2="353.69" stroke="#131315" stroke-width="0.45"/><rect x="130.63" y="350.00" width="0.85" height="1.24" fill="#131315"/><line x1="131.95" y1="350.19" x2="131.95" y2="353.91" stroke="#131315" stroke-width="0.45"/><rect x="131.53" y="351.24" width="0.85" height="1.19" fill="#131315"/><line x1="132.85" y1="351.61" x2="132.85" y2="352.61" stroke="#131315" stroke-width="0.45"/><rect x="132.43" y="352.44" width="0.85" height="0.60" fill="#131315"/><line x1="133.75" y1="352.31" x2="133.75" y2="355.31" stroke="#131315" stroke-width="0.45"/><rect x="133.33" y="352.45" width="0.85" height="2.86" fill="#131315"/><line x1="134.65" y1="353.26" x2="134.65" y2="355.36" stroke="#76777d" stroke-width="0.45"/><rect x="134.23" y="354.59" width="0.85" height="0.72" fill="#76777d"/><line x1="135.55" y1="353.43" x2="135.55" y2="357.37" stroke="#131315" stroke-width="0.45"/><rect x="135.13" y="354.59" width="0.85" height="2.32" fill="#131315"/><line x1="136.45" y1="356.34" x2="136.45" y2="360.78" stroke="#131315" stroke-width="0.45"/><rect x="136.03" y="356.91" width="0.85" height="1.04" fill="#131315"/><line x1="137.35" y1="357.50" x2="137.35" y2="359.16" stroke="#131315" stroke-width="0.45"/><rect x="136.93" y="357.96" width="0.85" height="0.60" fill="#131315"/><line x1="138.25" y1="358.05" x2="138.25" y2="362.42" stroke="#131315" stroke-width="0.45"/><rect x="137.83" y="358.48" width="0.85" height="3.79" fill="#131315"/><line x1="139.15" y1="362.13" x2="139.15" y2="368.15" stroke="#131315" stroke-width="0.45"/><rect x="138.73" y="362.28" width="0.85" height="5.02" fill="#131315"/><line x1="140.05" y1="365.30" x2="140.05" y2="373.15" stroke="#131315" stroke-width="0.45"/><rect x="139.63" y="367.30" width="0.85" height="5.82" fill="#131315"/><line x1="140.95" y1="370.44" x2="140.95" y2="378.80" stroke="#131315" stroke-width="0.45"/><rect x="140.53" y="373.13" width="0.85" height="4.30" fill="#131315"/><line x1="141.85" y1="377.42" x2="141.85" y2="382.76" stroke="#131315" stroke-width="0.45"/><rect x="141.43" y="377.43" width="0.85" height="3.83" fill="#131315"/><line x1="142.75" y1="380.78" x2="142.75" y2="386.39" stroke="#131315" stroke-width="0.45"/><rect x="142.33" y="381.26" width="0.85" height="3.37" fill="#131315"/><line x1="143.65" y1="384.60" x2="143.65" y2="389.37" stroke="#131315" stroke-width="0.45"/><rect x="143.23" y="384.63" width="0.85" height="3.96" fill="#131315"/><line x1="144.55" y1="387.78" x2="144.55" y2="392.78" stroke="#131315" stroke-width="0.45"/><rect x="144.13" y="388.59" width="0.85" height="2.36" fill="#131315"/><line x1="145.45" y1="387.69" x2="145.45" y2="394.19" stroke="#76777d" stroke-width="0.45"/><rect x="145.03" y="388.71" width="0.85" height="2.24" fill="#76777d"/><line x1="146.35" y1="372.18" x2="146.35" y2="388.85" stroke="#76777d" stroke-width="0.45"/><rect x="145.93" y="374.78" width="0.85" height="13.93" fill="#76777d"/><line x1="147.25" y1="374.35" x2="147.25" y2="375.47" stroke="#76777d" stroke-width="0.45"/><rect x="146.83" y="374.35" width="0.85" height="0.60" fill="#76777d"/><line x1="148.15" y1="371.89" x2="148.15" y2="374.41" stroke="#76777d" stroke-width="0.45"/><rect x="147.73" y="371.94" width="0.85" height="2.40" fill="#76777d"/><line x1="149.05" y1="371.57" x2="149.05" y2="372.81" stroke="#76777d" stroke-width="0.45"/><rect x="148.63" y="371.88" width="0.85" height="0.60" fill="#76777d"/><line x1="149.95" y1="370.12" x2="149.95" y2="373.13" stroke="#76777d" stroke-width="0.45"/><rect x="149.53" y="371.26" width="0.85" height="0.62" fill="#76777d"/><line x1="150.85" y1="368.59" x2="150.85" y2="375.32" stroke="#131315" stroke-width="0.45"/><rect x="150.43" y="371.26" width="0.85" height="4.03" fill="#131315"/><line x1="151.75" y1="374.35" x2="151.75" y2="378.59" stroke="#131315" stroke-width="0.45"/><rect x="151.33" y="375.28" width="0.85" height="3.29" fill="#131315"/><line x1="152.65" y1="376.64" x2="152.65" y2="380.27" stroke="#76777d" stroke-width="0.45"/><rect x="152.23" y="377.98" width="0.85" height="0.60" fill="#76777d"/><line x1="153.55" y1="373.32" x2="153.55" y2="378.27" stroke="#76777d" stroke-width="0.45"/><rect x="153.13" y="373.38" width="0.85" height="4.61" fill="#76777d"/><line x1="154.45" y1="366.59" x2="154.45" y2="374.05" stroke="#76777d" stroke-width="0.45"/><rect x="154.03" y="367.90" width="0.85" height="5.47" fill="#76777d"/><line x1="155.35" y1="365.23" x2="155.35" y2="368.42" stroke="#131315" stroke-width="0.45"/><rect x="154.93" y="367.90" width="0.85" height="0.60" fill="#131315"/><line x1="156.25" y1="367.69" x2="156.25" y2="371.09" stroke="#131315" stroke-width="0.45"/><rect x="155.83" y="368.04" width="0.85" height="0.60" fill="#131315"/><line x1="157.15" y1="366.43" x2="157.15" y2="368.57" stroke="#76777d" stroke-width="0.45"/><rect x="156.73" y="367.53" width="0.85" height="1.00" fill="#76777d"/><line x1="158.05" y1="365.69" x2="158.05" y2="368.25" stroke="#131315" stroke-width="0.45"/><rect x="157.63" y="367.53" width="0.85" height="0.60" fill="#131315"/><line x1="158.95" y1="364.15" x2="158.95" y2="370.21" stroke="#76777d" stroke-width="0.45"/><rect x="158.53" y="366.85" width="0.85" height="1.01" fill="#76777d"/><line x1="159.85" y1="362.01" x2="159.85" y2="369.26" stroke="#76777d" stroke-width="0.45"/><rect x="159.43" y="363.96" width="0.85" height="2.89" fill="#76777d"/><line x1="160.75" y1="362.42" x2="160.75" y2="366.77" stroke="#76777d" stroke-width="0.45"/><rect x="160.33" y="363.53" width="0.85" height="0.60" fill="#76777d"/><line x1="161.65" y1="361.44" x2="161.65" y2="363.88" stroke="#76777d" stroke-width="0.45"/><rect x="161.23" y="361.45" width="0.85" height="2.08" fill="#76777d"/><line x1="162.55" y1="358.08" x2="162.55" y2="361.45" stroke="#76777d" stroke-width="0.45"/><rect x="162.13" y="360.18" width="0.85" height="1.26" fill="#76777d"/><line x1="163.45" y1="358.10" x2="163.45" y2="363.18" stroke="#76777d" stroke-width="0.45"/><rect x="163.03" y="359.45" width="0.85" height="0.73" fill="#76777d"/><line x1="164.35" y1="357.92" x2="164.35" y2="362.96" stroke="#131315" stroke-width="0.45"/><rect x="163.93" y="359.45" width="0.85" height="1.28" fill="#131315"/><line x1="165.25" y1="360.71" x2="165.25" y2="367.58" stroke="#131315" stroke-width="0.45"/><rect x="164.83" y="360.73" width="0.85" height="5.29" fill="#131315"/><line x1="166.15" y1="364.91" x2="166.15" y2="372.91" stroke="#131315" stroke-width="0.45"/><rect x="165.73" y="366.02" width="0.85" height="6.32" fill="#131315"/><line x1="167.05" y1="371.82" x2="167.05" y2="379.68" stroke="#131315" stroke-width="0.45"/><rect x="166.63" y="372.35" width="0.85" height="5.46" fill="#131315"/><line x1="167.95" y1="375.73" x2="167.95" y2="381.01" stroke="#76777d" stroke-width="0.45"/><rect x="167.53" y="375.81" width="0.85" height="2.00" fill="#76777d"/><line x1="168.85" y1="364.90" x2="168.85" y2="378.61" stroke="#76777d" stroke-width="0.45"/><rect x="168.43" y="365.96" width="0.85" height="9.85" fill="#76777d"/><line x1="169.75" y1="352.22" x2="169.75" y2="367.32" stroke="#76777d" stroke-width="0.45"/><rect x="169.33" y="354.28" width="0.85" height="11.68" fill="#76777d"/><line x1="170.65" y1="351.22" x2="170.65" y2="356.73" stroke="#76777d" stroke-width="0.45"/><rect x="170.23" y="351.48" width="0.85" height="2.80" fill="#76777d"/><line x1="171.55" y1="349.00" x2="171.55" y2="352.06" stroke="#131315" stroke-width="0.45"/><rect x="171.13" y="351.48" width="0.85" height="0.60" fill="#131315"/><line x1="172.45" y1="350.01" x2="172.45" y2="357.69" stroke="#131315" stroke-width="0.45"/><rect x="172.03" y="351.88" width="0.85" height="3.41" fill="#131315"/><line x1="173.35" y1="354.80" x2="173.35" y2="361.04" stroke="#131315" stroke-width="0.45"/><rect x="172.93" y="355.29" width="0.85" height="3.27" fill="#131315"/><line x1="174.25" y1="358.52" x2="174.25" y2="360.70" stroke="#131315" stroke-width="0.45"/><rect x="173.83" y="358.56" width="0.85" height="1.07" fill="#131315"/><line x1="175.15" y1="359.61" x2="175.15" y2="359.96" stroke="#131315" stroke-width="0.45"/><rect x="174.73" y="359.63" width="0.85" height="0.60" fill="#131315"/><line x1="176.05" y1="359.41" x2="176.05" y2="359.79" stroke="#76777d" stroke-width="0.45"/><rect x="175.63" y="359.51" width="0.85" height="0.60" fill="#76777d"/><line x1="176.95" y1="359.02" x2="176.95" y2="365.61" stroke="#131315" stroke-width="0.45"/><rect x="176.53" y="359.51" width="0.85" height="5.34" fill="#131315"/><line x1="177.85" y1="364.62" x2="177.85" y2="370.85" stroke="#131315" stroke-width="0.45"/><rect x="177.43" y="364.86" width="0.85" height="4.72" fill="#131315"/><line x1="178.75" y1="366.86" x2="178.75" y2="372.30" stroke="#76777d" stroke-width="0.45"/><rect x="178.33" y="366.87" width="0.85" height="2.71" fill="#76777d"/><line x1="179.65" y1="358.85" x2="179.65" y2="367.35" stroke="#76777d" stroke-width="0.45"/><rect x="179.23" y="359.69" width="0.85" height="7.18" fill="#76777d"/><line x1="180.55" y1="351.19" x2="180.55" y2="359.74" stroke="#76777d" stroke-width="0.45"/><rect x="180.13" y="354.43" width="0.85" height="5.26" fill="#76777d"/><line x1="181.45" y1="353.88" x2="181.45" y2="358.89" stroke="#131315" stroke-width="0.45"/><rect x="181.03" y="354.43" width="0.85" height="3.83" fill="#131315"/><line x1="182.35" y1="357.84" x2="182.35" y2="366.34" stroke="#131315" stroke-width="0.45"/><rect x="181.93" y="358.25" width="0.85" height="5.24" fill="#131315"/><line x1="183.25" y1="362.52" x2="183.25" y2="369.07" stroke="#131315" stroke-width="0.45"/><rect x="182.83" y="363.50" width="0.85" height="4.77" fill="#131315"/><line x1="184.15" y1="367.68" x2="184.15" y2="369.75" stroke="#131315" stroke-width="0.45"/><rect x="183.73" y="368.27" width="0.85" height="0.92" fill="#131315"/><line x1="185.05" y1="366.47" x2="185.05" y2="371.99" stroke="#131315" stroke-width="0.45"/><rect x="184.63" y="369.18" width="0.85" height="0.89" fill="#131315"/><line x1="185.95" y1="368.81" x2="185.95" y2="371.71" stroke="#131315" stroke-width="0.45"/><rect x="185.53" y="370.07" width="0.85" height="1.56" fill="#131315"/><line x1="186.85" y1="366.80" x2="186.85" y2="371.68" stroke="#76777d" stroke-width="0.45"/><rect x="186.43" y="367.86" width="0.85" height="3.78" fill="#76777d"/><line x1="187.75" y1="364.33" x2="187.75" y2="367.86" stroke="#76777d" stroke-width="0.45"/><rect x="187.33" y="364.70" width="0.85" height="3.16" fill="#76777d"/><line x1="188.65" y1="363.21" x2="188.65" y2="372.60" stroke="#131315" stroke-width="0.45"/><rect x="188.23" y="364.70" width="0.85" height="5.03" fill="#131315"/><line x1="189.55" y1="368.51" x2="189.55" y2="373.45" stroke="#131315" stroke-width="0.45"/><rect x="189.13" y="369.73" width="0.85" height="2.75" fill="#131315"/><line x1="190.45" y1="372.29" x2="190.45" y2="377.52" stroke="#131315" stroke-width="0.45"/><rect x="190.03" y="372.48" width="0.85" height="4.46" fill="#131315"/><line x1="191.35" y1="376.29" x2="191.35" y2="382.35" stroke="#131315" stroke-width="0.45"/><rect x="190.93" y="376.93" width="0.85" height="4.88" fill="#131315"/><line x1="192.25" y1="377.18" x2="192.25" y2="381.96" stroke="#76777d" stroke-width="0.45"/><rect x="191.83" y="377.40" width="0.85" height="4.42" fill="#76777d"/><line x1="193.15" y1="370.12" x2="193.15" y2="380.12" stroke="#76777d" stroke-width="0.45"/><rect x="192.73" y="371.81" width="0.85" height="5.59" fill="#76777d"/><line x1="194.05" y1="368.28" x2="194.05" y2="372.97" stroke="#76777d" stroke-width="0.45"/><rect x="193.63" y="370.80" width="0.85" height="1.02" fill="#76777d"/><line x1="194.95" y1="370.79" x2="194.95" y2="372.81" stroke="#131315" stroke-width="0.45"/><rect x="194.53" y="370.80" width="0.85" height="1.74" fill="#131315"/><line x1="195.85" y1="370.42" x2="195.85" y2="377.40" stroke="#131315" stroke-width="0.45"/><rect x="195.43" y="372.54" width="0.85" height="2.02" fill="#131315"/><line x1="196.75" y1="365.12" x2="196.75" y2="375.97" stroke="#76777d" stroke-width="0.45"/><rect x="196.33" y="366.02" width="0.85" height="8.54" fill="#76777d"/><line x1="197.65" y1="359.39" x2="197.65" y2="366.20" stroke="#76777d" stroke-width="0.45"/><rect x="197.23" y="364.64" width="0.85" height="1.37" fill="#76777d"/><line x1="198.55" y1="363.12" x2="198.55" y2="373.00" stroke="#131315" stroke-width="0.45"/><rect x="198.13" y="364.64" width="0.85" height="6.93" fill="#131315"/><line x1="199.45" y1="369.42" x2="199.45" y2="376.01" stroke="#131315" stroke-width="0.45"/><rect x="199.03" y="371.58" width="0.85" height="3.79" fill="#131315"/><line x1="200.35" y1="374.05" x2="200.35" y2="379.80" stroke="#131315" stroke-width="0.45"/><rect x="199.93" y="375.37" width="0.85" height="3.50" fill="#131315"/><line x1="201.25" y1="373.29" x2="201.25" y2="381.64" stroke="#76777d" stroke-width="0.45"/><rect x="200.83" y="374.14" width="0.85" height="4.72" fill="#76777d"/><line x1="202.15" y1="353.41" x2="202.15" y2="375.85" stroke="#76777d" stroke-width="0.45"/><rect x="201.73" y="356.13" width="0.85" height="18.02" fill="#76777d"/><line x1="203.05" y1="355.60" x2="203.05" y2="357.11" stroke="#131315" stroke-width="0.45"/><rect x="202.63" y="356.13" width="0.85" height="0.60" fill="#131315"/><line x1="203.95" y1="351.17" x2="203.95" y2="358.02" stroke="#76777d" stroke-width="0.45"/><rect x="203.53" y="353.59" width="0.85" height="2.76" fill="#76777d"/><line x1="204.85" y1="351.05" x2="204.85" y2="356.46" stroke="#76777d" stroke-width="0.45"/><rect x="204.43" y="352.33" width="0.85" height="1.26" fill="#76777d"/><line x1="205.75" y1="349.96" x2="205.75" y2="355.58" stroke="#131315" stroke-width="0.45"/><rect x="205.33" y="352.33" width="0.85" height="2.18" fill="#131315"/><line x1="206.65" y1="353.34" x2="206.65" y2="376.75" stroke="#131315" stroke-width="0.45"/><rect x="206.23" y="354.51" width="0.85" height="21.62" fill="#131315"/><line x1="207.55" y1="373.35" x2="207.55" y2="389.88" stroke="#131315" stroke-width="0.45"/><rect x="207.13" y="376.13" width="0.85" height="10.95" fill="#131315"/><line x1="208.45" y1="386.62" x2="208.45" y2="393.20" stroke="#131315" stroke-width="0.45"/><rect x="208.03" y="387.08" width="0.85" height="4.99" fill="#131315"/><line x1="209.35" y1="390.31" x2="209.35" y2="397.29" stroke="#131315" stroke-width="0.45"/><rect x="208.93" y="392.06" width="0.85" height="3.77" fill="#131315"/><line x1="210.25" y1="395.44" x2="210.25" y2="406.51" stroke="#131315" stroke-width="0.45"/><rect x="209.83" y="395.84" width="0.85" height="7.85" fill="#131315"/><line x1="211.15" y1="403.33" x2="211.15" y2="410.17" stroke="#131315" stroke-width="0.45"/><rect x="210.73" y="403.69" width="0.85" height="6.41" fill="#131315"/><line x1="212.05" y1="408.78" x2="212.05" y2="415.58" stroke="#131315" stroke-width="0.45"/><rect x="211.63" y="410.10" width="0.85" height="4.22" fill="#131315"/><line x1="212.95" y1="412.38" x2="212.95" y2="415.06" stroke="#76777d" stroke-width="0.45"/><rect x="212.53" y="412.88" width="0.85" height="1.44" fill="#76777d"/><line x1="213.85" y1="408.67" x2="213.85" y2="414.84" stroke="#76777d" stroke-width="0.45"/><rect x="213.43" y="412.70" width="0.85" height="0.60" fill="#76777d"/><line x1="214.75" y1="407.81" x2="214.75" y2="415.20" stroke="#76777d" stroke-width="0.45"/><rect x="214.33" y="408.31" width="0.85" height="4.40" fill="#76777d"/><line x1="215.65" y1="401.97" x2="215.65" y2="408.80" stroke="#76777d" stroke-width="0.45"/><rect x="215.23" y="402.95" width="0.85" height="5.36" fill="#76777d"/><line x1="216.55" y1="398.79" x2="216.55" y2="404.79" stroke="#76777d" stroke-width="0.45"/><rect x="216.13" y="400.05" width="0.85" height="2.90" fill="#76777d"/><line x1="217.45" y1="392.59" x2="217.45" y2="401.40" stroke="#76777d" stroke-width="0.45"/><rect x="217.03" y="395.35" width="0.85" height="4.70" fill="#76777d"/><line x1="218.35" y1="391.02" x2="218.35" y2="395.83" stroke="#76777d" stroke-width="0.45"/><rect x="217.93" y="392.35" width="0.85" height="2.99" fill="#76777d"/><line x1="219.25" y1="388.94" x2="219.25" y2="392.97" stroke="#76777d" stroke-width="0.45"/><rect x="218.83" y="388.95" width="0.85" height="3.41" fill="#76777d"/><line x1="220.15" y1="387.34" x2="220.15" y2="391.61" stroke="#76777d" stroke-width="0.45"/><rect x="219.73" y="387.38" width="0.85" height="1.57" fill="#76777d"/><line x1="221.05" y1="386.81" x2="221.05" y2="388.48" stroke="#76777d" stroke-width="0.45"/><rect x="220.63" y="387.20" width="0.85" height="0.60" fill="#76777d"/><line x1="221.95" y1="385.59" x2="221.95" y2="387.70" stroke="#131315" stroke-width="0.45"/><rect x="221.53" y="387.20" width="0.85" height="0.60" fill="#131315"/><line x1="222.85" y1="384.72" x2="222.85" y2="387.93" stroke="#76777d" stroke-width="0.45"/><rect x="222.43" y="387.30" width="0.85" height="0.60" fill="#76777d"/><line x1="223.75" y1="387.28" x2="223.75" y2="390.34" stroke="#131315" stroke-width="0.45"/><rect x="223.33" y="387.30" width="0.85" height="1.97" fill="#131315"/><line x1="224.65" y1="388.78" x2="224.65" y2="394.04" stroke="#131315" stroke-width="0.45"/><rect x="224.23" y="389.26" width="0.85" height="2.24" fill="#131315"/><line x1="225.55" y1="390.91" x2="225.55" y2="403.12" stroke="#131315" stroke-width="0.45"/><rect x="225.13" y="391.51" width="0.85" height="11.59" fill="#131315"/><line x1="226.45" y1="398.55" x2="226.45" y2="403.09" stroke="#76777d" stroke-width="0.45"/><rect x="226.03" y="398.55" width="0.85" height="4.54" fill="#76777d"/><line x1="227.35" y1="393.95" x2="227.35" y2="400.08" stroke="#76777d" stroke-width="0.45"/><rect x="226.93" y="394.68" width="0.85" height="3.87" fill="#76777d"/><line x1="228.25" y1="390.39" x2="228.25" y2="395.01" stroke="#76777d" stroke-width="0.45"/><rect x="227.83" y="391.00" width="0.85" height="3.69" fill="#76777d"/><line x1="229.15" y1="388.08" x2="229.15" y2="393.41" stroke="#76777d" stroke-width="0.45"/><rect x="228.73" y="388.76" width="0.85" height="2.23" fill="#76777d"/><line x1="230.05" y1="384.84" x2="230.05" y2="391.06" stroke="#76777d" stroke-width="0.45"/><rect x="229.63" y="387.67" width="0.85" height="1.10" fill="#76777d"/><line x1="230.95" y1="386.44" x2="230.95" y2="388.99" stroke="#131315" stroke-width="0.45"/><rect x="230.53" y="387.67" width="0.85" height="0.60" fill="#131315"/><line x1="231.85" y1="386.52" x2="231.85" y2="388.80" stroke="#76777d" stroke-width="0.45"/><rect x="231.43" y="386.67" width="0.85" height="1.00" fill="#76777d"/><line x1="232.75" y1="386.54" x2="232.75" y2="387.08" stroke="#76777d" stroke-width="0.45"/><rect x="232.33" y="386.63" width="0.85" height="0.60" fill="#76777d"/><line x1="233.65" y1="384.56" x2="233.65" y2="389.43" stroke="#131315" stroke-width="0.45"/><rect x="233.23" y="386.63" width="0.85" height="1.84" fill="#131315"/><line x1="234.55" y1="386.88" x2="234.55" y2="390.92" stroke="#131315" stroke-width="0.45"/><rect x="234.13" y="388.46" width="0.85" height="1.81" fill="#131315"/><line x1="235.45" y1="390.04" x2="235.45" y2="391.47" stroke="#131315" stroke-width="0.45"/><rect x="235.03" y="390.27" width="0.85" height="0.60" fill="#131315"/><line x1="236.35" y1="389.72" x2="236.35" y2="392.44" stroke="#131315" stroke-width="0.45"/><rect x="235.93" y="390.71" width="0.85" height="1.55" fill="#131315"/><line x1="237.25" y1="387.49" x2="237.25" y2="395.15" stroke="#76777d" stroke-width="0.45"/><rect x="236.83" y="389.63" width="0.85" height="2.63" fill="#76777d"/><line x1="238.15" y1="389.26" x2="238.15" y2="389.81" stroke="#76777d" stroke-width="0.45"/><rect x="237.73" y="389.35" width="0.85" height="0.60" fill="#76777d"/><line x1="239.05" y1="387.38" x2="239.05" y2="391.56" stroke="#131315" stroke-width="0.45"/><rect x="238.63" y="389.35" width="0.85" height="0.64" fill="#131315"/><line x1="239.95" y1="384.80" x2="239.95" y2="391.02" stroke="#76777d" stroke-width="0.45"/><rect x="239.53" y="384.95" width="0.85" height="5.04" fill="#76777d"/><line x1="240.85" y1="372.43" x2="240.85" y2="387.19" stroke="#76777d" stroke-width="0.45"/><rect x="240.43" y="377.07" width="0.85" height="7.88" fill="#76777d"/><line x1="241.75" y1="376.03" x2="241.75" y2="391.02" stroke="#131315" stroke-width="0.45"/><rect x="241.33" y="377.07" width="0.85" height="13.17" fill="#131315"/><line x1="242.65" y1="390.16" x2="242.65" y2="397.99" stroke="#131315" stroke-width="0.45"/><rect x="242.23" y="390.24" width="0.85" height="7.23" fill="#131315"/><line x1="243.55" y1="396.79" x2="243.55" y2="402.73" stroke="#131315" stroke-width="0.45"/><rect x="243.13" y="397.47" width="0.85" height="4.87" fill="#131315"/><line x1="244.45" y1="402.24" x2="244.45" y2="409.80" stroke="#131315" stroke-width="0.45"/><rect x="244.03" y="402.33" width="0.85" height="7.35" fill="#131315"/><line x1="245.35" y1="407.83" x2="245.35" y2="415.36" stroke="#131315" stroke-width="0.45"/><rect x="244.93" y="409.68" width="0.85" height="3.11" fill="#131315"/><line x1="246.25" y1="409.51" x2="246.25" y2="415.14" stroke="#76777d" stroke-width="0.45"/><rect x="245.83" y="411.65" width="0.85" height="1.14" fill="#76777d"/><line x1="247.15" y1="407.55" x2="247.15" y2="411.70" stroke="#76777d" stroke-width="0.45"/><rect x="246.73" y="409.43" width="0.85" height="2.22" fill="#76777d"/><line x1="248.05" y1="406.52" x2="248.05" y2="410.91" stroke="#76777d" stroke-width="0.45"/><rect x="247.63" y="406.65" width="0.85" height="2.78" fill="#76777d"/><line x1="248.95" y1="406.65" x2="248.95" y2="407.02" stroke="#131315" stroke-width="0.45"/><rect x="248.53" y="406.65" width="0.85" height="0.60" fill="#131315"/><line x1="249.85" y1="404.69" x2="249.85" y2="407.09" stroke="#76777d" stroke-width="0.45"/><rect x="249.43" y="406.51" width="0.85" height="0.60" fill="#76777d"/><line x1="250.75" y1="404.74" x2="250.75" y2="406.98" stroke="#76777d" stroke-width="0.45"/><rect x="250.33" y="404.84" width="0.85" height="1.67" fill="#76777d"/><line x1="251.65" y1="399.74" x2="251.65" y2="404.84" stroke="#76777d" stroke-width="0.45"/><rect x="251.23" y="401.84" width="0.85" height="3.00" fill="#76777d"/><line x1="252.55" y1="395.33" x2="252.55" y2="402.11" stroke="#76777d" stroke-width="0.45"/><rect x="252.13" y="397.64" width="0.85" height="4.20" fill="#76777d"/><line x1="253.45" y1="396.52" x2="253.45" y2="400.32" stroke="#131315" stroke-width="0.45"/><rect x="253.03" y="397.64" width="0.85" height="2.01" fill="#131315"/><line x1="254.35" y1="399.60" x2="254.35" y2="406.46" stroke="#131315" stroke-width="0.45"/><rect x="253.93" y="399.65" width="0.85" height="4.06" fill="#131315"/><line x1="255.25" y1="403.61" x2="255.25" y2="408.26" stroke="#131315" stroke-width="0.45"/><rect x="254.83" y="403.70" width="0.85" height="2.61" fill="#131315"/><line x1="256.15" y1="398.79" x2="256.15" y2="406.93" stroke="#76777d" stroke-width="0.45"/><rect x="255.73" y="401.11" width="0.85" height="5.21" fill="#76777d"/><line x1="257.05" y1="395.72" x2="257.05" y2="401.12" stroke="#76777d" stroke-width="0.45"/><rect x="256.63" y="398.49" width="0.85" height="2.62" fill="#76777d"/><line x1="257.95" y1="395.27" x2="257.95" y2="399.19" stroke="#76777d" stroke-width="0.45"/><rect x="257.53" y="395.34" width="0.85" height="3.15" fill="#76777d"/><line x1="258.85" y1="391.25" x2="258.85" y2="397.30" stroke="#76777d" stroke-width="0.45"/><rect x="258.43" y="391.26" width="0.85" height="4.08" fill="#76777d"/><line x1="259.75" y1="390.43" x2="259.75" y2="396.92" stroke="#131315" stroke-width="0.45"/><rect x="259.33" y="391.26" width="0.85" height="3.74" fill="#131315"/><line x1="260.65" y1="394.76" x2="260.65" y2="396.18" stroke="#131315" stroke-width="0.45"/><rect x="260.23" y="395.01" width="0.85" height="1.17" fill="#131315"/><line x1="261.55" y1="393.80" x2="261.55" y2="398.70" stroke="#131315" stroke-width="0.45"/><rect x="261.13" y="396.18" width="0.85" height="2.39" fill="#131315"/><line x1="262.45" y1="398.05" x2="262.45" y2="399.21" stroke="#131315" stroke-width="0.45"/><rect x="262.03" y="398.57" width="0.85" height="0.60" fill="#131315"/><line x1="263.35" y1="398.13" x2="263.35" y2="402.54" stroke="#131315" stroke-width="0.45"/><rect x="262.93" y="399.17" width="0.85" height="2.73" fill="#131315"/><line x1="264.25" y1="396.87" x2="264.25" y2="401.90" stroke="#76777d" stroke-width="0.45"/><rect x="263.83" y="396.99" width="0.85" height="4.90" fill="#76777d"/><line x1="265.15" y1="390.12" x2="265.15" y2="398.83" stroke="#76777d" stroke-width="0.45"/><rect x="264.73" y="390.46" width="0.85" height="6.53" fill="#76777d"/><line x1="266.05" y1="383.51" x2="266.05" y2="390.62" stroke="#76777d" stroke-width="0.45"/><rect x="265.63" y="383.58" width="0.85" height="6.88" fill="#76777d"/><line x1="266.95" y1="377.89" x2="266.95" y2="384.79" stroke="#76777d" stroke-width="0.45"/><rect x="266.53" y="379.04" width="0.85" height="4.54" fill="#76777d"/><line x1="267.85" y1="376.66" x2="267.85" y2="383.62" stroke="#131315" stroke-width="0.45"/><rect x="267.43" y="379.04" width="0.85" height="3.33" fill="#131315"/><line x1="268.75" y1="380.21" x2="268.75" y2="389.32" stroke="#131315" stroke-width="0.45"/><rect x="268.33" y="382.37" width="0.85" height="6.88" fill="#131315"/><line x1="269.65" y1="386.70" x2="269.65" y2="393.16" stroke="#131315" stroke-width="0.45"/><rect x="269.23" y="389.25" width="0.85" height="3.90" fill="#131315"/><line x1="270.55" y1="390.04" x2="270.55" y2="393.19" stroke="#76777d" stroke-width="0.45"/><rect x="270.13" y="390.08" width="0.85" height="3.07" fill="#76777d"/><line x1="271.45" y1="387.68" x2="271.45" y2="390.85" stroke="#76777d" stroke-width="0.45"/><rect x="271.03" y="389.49" width="0.85" height="0.60" fill="#76777d"/><line x1="272.35" y1="384.99" x2="272.35" y2="392.34" stroke="#76777d" stroke-width="0.45"/><rect x="271.93" y="387.53" width="0.85" height="1.95" fill="#76777d"/><line x1="273.25" y1="382.49" x2="273.25" y2="388.66" stroke="#76777d" stroke-width="0.45"/><rect x="272.83" y="385.21" width="0.85" height="2.32" fill="#76777d"/><line x1="274.15" y1="382.93" x2="274.15" y2="387.96" stroke="#76777d" stroke-width="0.45"/><rect x="273.73" y="383.81" width="0.85" height="1.40" fill="#76777d"/><line x1="275.05" y1="381.26" x2="275.05" y2="383.92" stroke="#76777d" stroke-width="0.45"/><rect x="274.63" y="382.87" width="0.85" height="0.94" fill="#76777d"/><line x1="275.95" y1="380.08" x2="275.95" y2="382.87" stroke="#76777d" stroke-width="0.45"/><rect x="275.53" y="381.08" width="0.85" height="1.79" fill="#76777d"/><line x1="276.85" y1="379.58" x2="276.85" y2="382.30" stroke="#76777d" stroke-width="0.45"/><rect x="276.43" y="379.58" width="0.85" height="1.50" fill="#76777d"/><line x1="277.75" y1="378.02" x2="277.75" y2="382.04" stroke="#131315" stroke-width="0.45"/><rect x="277.33" y="379.58" width="0.85" height="0.60" fill="#131315"/><line x1="278.65" y1="373.60" x2="278.65" y2="379.87" stroke="#76777d" stroke-width="0.45"/><rect x="278.23" y="375.31" width="0.85" height="4.51" fill="#76777d"/><line x1="279.55" y1="371.42" x2="279.55" y2="378.20" stroke="#76777d" stroke-width="0.45"/><rect x="279.13" y="373.05" width="0.85" height="2.25" fill="#76777d"/><line x1="280.45" y1="368.93" x2="280.45" y2="373.75" stroke="#76777d" stroke-width="0.45"/><rect x="280.03" y="371.42" width="0.85" height="1.64" fill="#76777d"/><line x1="281.35" y1="371.16" x2="281.35" y2="373.89" stroke="#131315" stroke-width="0.45"/><rect x="280.93" y="371.42" width="0.85" height="2.46" fill="#131315"/><line x1="282.25" y1="372.70" x2="282.25" y2="379.08" stroke="#131315" stroke-width="0.45"/><rect x="281.83" y="373.88" width="0.85" height="2.43" fill="#131315"/><line x1="283.15" y1="374.33" x2="283.15" y2="378.33" stroke="#76777d" stroke-width="0.45"/><rect x="282.73" y="374.36" width="0.85" height="1.94" fill="#76777d"/><line x1="284.05" y1="371.14" x2="284.05" y2="374.74" stroke="#76777d" stroke-width="0.45"/><rect x="283.63" y="373.55" width="0.85" height="0.81" fill="#76777d"/><line x1="284.95" y1="369.12" x2="284.95" y2="373.63" stroke="#76777d" stroke-width="0.45"/><rect x="284.53" y="371.27" width="0.85" height="2.29" fill="#76777d"/><line x1="285.85" y1="371.00" x2="285.85" y2="373.14" stroke="#131315" stroke-width="0.45"/><rect x="285.43" y="371.27" width="0.85" height="0.91" fill="#131315"/><line x1="286.75" y1="369.86" x2="286.75" y2="374.06" stroke="#131315" stroke-width="0.45"/><rect x="286.33" y="372.18" width="0.85" height="1.02" fill="#131315"/><line x1="287.65" y1="372.62" x2="287.65" y2="375.79" stroke="#76777d" stroke-width="0.45"/><rect x="287.23" y="372.65" width="0.85" height="0.60" fill="#76777d"/><line x1="288.55" y1="370.45" x2="288.55" y2="374.47" stroke="#76777d" stroke-width="0.45"/><rect x="288.13" y="371.43" width="0.85" height="1.22" fill="#76777d"/><line x1="289.45" y1="371.27" x2="289.45" y2="373.47" stroke="#131315" stroke-width="0.45"/><rect x="289.03" y="371.43" width="0.85" height="1.70" fill="#131315"/><line x1="290.35" y1="373.11" x2="290.35" y2="374.45" stroke="#131315" stroke-width="0.45"/><rect x="289.93" y="373.13" width="0.85" height="1.21" fill="#131315"/><line x1="291.25" y1="373.77" x2="291.25" y2="375.88" stroke="#131315" stroke-width="0.45"/><rect x="290.83" y="374.34" width="0.85" height="1.03" fill="#131315"/><line x1="292.15" y1="373.71" x2="292.15" y2="378.05" stroke="#131315" stroke-width="0.45"/><rect x="291.73" y="375.37" width="0.85" height="0.60" fill="#131315"/><line x1="293.05" y1="375.63" x2="293.05" y2="384.42" stroke="#131315" stroke-width="0.45"/><rect x="292.63" y="375.97" width="0.85" height="5.88" fill="#131315"/><line x1="293.95" y1="380.57" x2="293.95" y2="385.76" stroke="#131315" stroke-width="0.45"/><rect x="293.53" y="381.85" width="0.85" height="3.56" fill="#131315"/><line x1="294.85" y1="385.30" x2="294.85" y2="391.74" stroke="#131315" stroke-width="0.45"/><rect x="294.43" y="385.41" width="0.85" height="2.49" fill="#131315"/><line x1="295.75" y1="382.19" x2="295.75" y2="387.90" stroke="#76777d" stroke-width="0.45"/><rect x="295.33" y="383.48" width="0.85" height="4.41" fill="#76777d"/><line x1="296.65" y1="377.88" x2="296.65" y2="383.91" stroke="#76777d" stroke-width="0.45"/><rect x="296.23" y="379.29" width="0.85" height="4.20" fill="#76777d"/><line x1="297.55" y1="378.07" x2="297.55" y2="381.05" stroke="#76777d" stroke-width="0.45"/><rect x="297.13" y="379.16" width="0.85" height="0.60" fill="#76777d"/><line x1="298.45" y1="378.49" x2="298.45" y2="379.37" stroke="#76777d" stroke-width="0.45"/><rect x="298.03" y="378.64" width="0.85" height="0.60" fill="#76777d"/><line x1="299.35" y1="376.52" x2="299.35" y2="382.15" stroke="#131315" stroke-width="0.45"/><rect x="298.93" y="378.64" width="0.85" height="1.05" fill="#131315"/><line x1="300.25" y1="379.67" x2="300.25" y2="393.24" stroke="#131315" stroke-width="0.45"/><rect x="299.82" y="379.69" width="0.85" height="11.47" fill="#131315"/><line x1="301.15" y1="388.84" x2="301.15" y2="391.60" stroke="#131315" stroke-width="0.45"/><rect x="300.72" y="391.16" width="0.85" height="0.60" fill="#131315"/><line x1="302.05" y1="389.30" x2="302.05" y2="392.67" stroke="#76777d" stroke-width="0.45"/><rect x="301.62" y="390.62" width="0.85" height="0.89" fill="#76777d"/><line x1="302.95" y1="389.11" x2="302.95" y2="392.47" stroke="#131315" stroke-width="0.45"/><rect x="302.52" y="390.62" width="0.85" height="0.60" fill="#131315"/><line x1="303.85" y1="387.68" x2="303.85" y2="391.77" stroke="#76777d" stroke-width="0.45"/><rect x="303.42" y="387.98" width="0.85" height="3.03" fill="#76777d"/><line x1="304.75" y1="384.21" x2="304.75" y2="388.60" stroke="#76777d" stroke-width="0.45"/><rect x="304.32" y="384.38" width="0.85" height="3.60" fill="#76777d"/><line x1="305.65" y1="382.71" x2="305.65" y2="384.42" stroke="#76777d" stroke-width="0.45"/><rect x="305.22" y="383.20" width="0.85" height="1.18" fill="#76777d"/><line x1="306.55" y1="379.44" x2="306.55" y2="383.56" stroke="#76777d" stroke-width="0.45"/><rect x="306.12" y="379.60" width="0.85" height="3.60" fill="#76777d"/><line x1="307.45" y1="379.07" x2="307.45" y2="380.55" stroke="#76777d" stroke-width="0.45"/><rect x="307.02" y="379.54" width="0.85" height="0.60" fill="#76777d"/><line x1="308.35" y1="376.24" x2="308.35" y2="379.74" stroke="#76777d" stroke-width="0.45"/><rect x="307.92" y="377.91" width="0.85" height="1.63" fill="#76777d"/><line x1="309.25" y1="375.35" x2="309.25" y2="378.25" stroke="#76777d" stroke-width="0.45"/><rect x="308.82" y="376.28" width="0.85" height="1.63" fill="#76777d"/><line x1="310.15" y1="374.24" x2="310.15" y2="376.33" stroke="#76777d" stroke-width="0.45"/><rect x="309.72" y="374.39" width="0.85" height="1.88" fill="#76777d"/><line x1="311.05" y1="367.54" x2="311.05" y2="377.00" stroke="#76777d" stroke-width="0.45"/><rect x="310.62" y="370.37" width="0.85" height="4.02" fill="#76777d"/><line x1="311.95" y1="368.30" x2="311.95" y2="371.20" stroke="#131315" stroke-width="0.45"/><rect x="311.52" y="370.37" width="0.85" height="0.74" fill="#131315"/><line x1="312.85" y1="371.05" x2="312.85" y2="374.34" stroke="#131315" stroke-width="0.45"/><rect x="312.42" y="371.11" width="0.85" height="3.20" fill="#131315"/><line x1="313.75" y1="370.96" x2="313.75" y2="374.86" stroke="#76777d" stroke-width="0.45"/><rect x="313.32" y="371.23" width="0.85" height="3.08" fill="#76777d"/><line x1="314.65" y1="368.29" x2="314.65" y2="371.77" stroke="#76777d" stroke-width="0.45"/><rect x="314.22" y="368.29" width="0.85" height="2.95" fill="#76777d"/><line x1="315.55" y1="365.24" x2="315.55" y2="370.37" stroke="#76777d" stroke-width="0.45"/><rect x="315.12" y="366.67" width="0.85" height="1.62" fill="#76777d"/><line x1="316.45" y1="366.56" x2="316.45" y2="367.98" stroke="#131315" stroke-width="0.45"/><rect x="316.02" y="366.67" width="0.85" height="1.31" fill="#131315"/><line x1="317.35" y1="366.08" x2="317.35" y2="368.45" stroke="#131315" stroke-width="0.45"/><rect x="316.92" y="367.98" width="0.85" height="0.60" fill="#131315"/><line x1="318.25" y1="367.59" x2="318.25" y2="368.09" stroke="#76777d" stroke-width="0.45"/><rect x="317.82" y="367.88" width="0.85" height="0.60" fill="#76777d"/><line x1="319.15" y1="363.73" x2="319.15" y2="368.09" stroke="#76777d" stroke-width="0.45"/><rect x="318.72" y="363.95" width="0.85" height="3.93" fill="#76777d"/><line x1="320.05" y1="360.92" x2="320.05" y2="364.11" stroke="#76777d" stroke-width="0.45"/><rect x="319.62" y="361.12" width="0.85" height="2.83" fill="#76777d"/><line x1="320.95" y1="355.45" x2="320.95" y2="363.10" stroke="#76777d" stroke-width="0.45"/><rect x="320.52" y="356.25" width="0.85" height="4.86" fill="#76777d"/><line x1="321.85" y1="353.41" x2="321.85" y2="356.77" stroke="#76777d" stroke-width="0.45"/><rect x="321.42" y="353.88" width="0.85" height="2.38" fill="#76777d"/><line x1="322.75" y1="353.18" x2="322.75" y2="358.79" stroke="#131315" stroke-width="0.45"/><rect x="322.32" y="353.88" width="0.85" height="2.78" fill="#131315"/><line x1="323.65" y1="354.89" x2="323.65" y2="360.64" stroke="#131315" stroke-width="0.45"/><rect x="323.22" y="356.66" width="0.85" height="1.07" fill="#131315"/><line x1="324.55" y1="355.00" x2="324.55" y2="361.55" stroke="#76777d" stroke-width="0.45"/><rect x="324.12" y="355.09" width="0.85" height="2.64" fill="#76777d"/><line x1="325.45" y1="349.08" x2="325.45" y2="356.09" stroke="#76777d" stroke-width="0.45"/><rect x="325.02" y="349.34" width="0.85" height="5.75" fill="#76777d"/><line x1="326.35" y1="336.41" x2="326.35" y2="350.33" stroke="#76777d" stroke-width="0.45"/><rect x="325.92" y="337.25" width="0.85" height="12.09" fill="#76777d"/><line x1="327.25" y1="335.00" x2="327.25" y2="337.26" stroke="#76777d" stroke-width="0.45"/><rect x="326.82" y="335.31" width="0.85" height="1.94" fill="#76777d"/><line x1="328.15" y1="328.52" x2="328.15" y2="337.89" stroke="#76777d" stroke-width="0.45"/><rect x="327.72" y="328.52" width="0.85" height="6.79" fill="#76777d"/><line x1="329.05" y1="318.03" x2="329.05" y2="329.16" stroke="#76777d" stroke-width="0.45"/><rect x="328.62" y="320.39" width="0.85" height="8.14" fill="#76777d"/><line x1="329.95" y1="315.18" x2="329.95" y2="322.49" stroke="#76777d" stroke-width="0.45"/><rect x="329.52" y="316.47" width="0.85" height="3.92" fill="#76777d"/><line x1="330.85" y1="315.71" x2="330.85" y2="325.05" stroke="#131315" stroke-width="0.45"/><rect x="330.42" y="316.47" width="0.85" height="7.92" fill="#131315"/><line x1="331.75" y1="323.17" x2="331.75" y2="326.68" stroke="#131315" stroke-width="0.45"/><rect x="331.32" y="324.39" width="0.85" height="2.22" fill="#131315"/><line x1="332.65" y1="325.15" x2="332.65" y2="328.60" stroke="#76777d" stroke-width="0.45"/><rect x="332.22" y="325.29" width="0.85" height="1.32" fill="#76777d"/><line x1="333.55" y1="323.67" x2="333.55" y2="329.78" stroke="#131315" stroke-width="0.45"/><rect x="333.12" y="325.29" width="0.85" height="1.58" fill="#131315"/><line x1="334.45" y1="326.31" x2="334.45" y2="335.56" stroke="#131315" stroke-width="0.45"/><rect x="334.02" y="326.87" width="0.85" height="5.85" fill="#131315"/><line x1="335.35" y1="330.35" x2="335.35" y2="338.22" stroke="#131315" stroke-width="0.45"/><rect x="334.92" y="332.72" width="0.85" height="4.72" fill="#131315"/><line x1="336.25" y1="334.16" x2="336.25" y2="339.58" stroke="#76777d" stroke-width="0.45"/><rect x="335.82" y="336.55" width="0.85" height="0.90" fill="#76777d"/><line x1="337.15" y1="333.54" x2="337.15" y2="338.54" stroke="#76777d" stroke-width="0.45"/><rect x="336.72" y="333.56" width="0.85" height="2.99" fill="#76777d"/><line x1="338.05" y1="333.50" x2="338.05" y2="340.75" stroke="#131315" stroke-width="0.45"/><rect x="337.62" y="333.56" width="0.85" height="6.40" fill="#131315"/><line x1="338.95" y1="338.33" x2="338.95" y2="347.41" stroke="#131315" stroke-width="0.45"/><rect x="338.52" y="339.96" width="0.85" height="6.07" fill="#131315"/><line x1="339.85" y1="344.60" x2="339.85" y2="348.46" stroke="#76777d" stroke-width="0.45"/><rect x="339.42" y="344.74" width="0.85" height="1.28" fill="#76777d"/><line x1="340.75" y1="342.84" x2="340.75" y2="345.69" stroke="#76777d" stroke-width="0.45"/><rect x="340.32" y="342.84" width="0.85" height="1.90" fill="#76777d"/><line x1="341.65" y1="338.00" x2="341.65" y2="343.74" stroke="#76777d" stroke-width="0.45"/><rect x="341.22" y="340.42" width="0.85" height="2.43" fill="#76777d"/><line x1="342.55" y1="340.14" x2="342.55" y2="343.55" stroke="#131315" stroke-width="0.45"/><rect x="342.12" y="340.42" width="0.85" height="0.60" fill="#131315"/><line x1="343.45" y1="338.98" x2="343.45" y2="343.47" stroke="#131315" stroke-width="0.45"/><rect x="343.02" y="340.56" width="0.85" height="1.03" fill="#131315"/><line x1="344.35" y1="337.83" x2="344.35" y2="344.21" stroke="#76777d" stroke-width="0.45"/><rect x="343.92" y="340.24" width="0.85" height="1.35" fill="#76777d"/><line x1="345.25" y1="339.25" x2="345.25" y2="342.99" stroke="#131315" stroke-width="0.45"/><rect x="344.82" y="340.24" width="0.85" height="0.71" fill="#131315"/><line x1="346.15" y1="338.88" x2="346.15" y2="341.15" stroke="#76777d" stroke-width="0.45"/><rect x="345.72" y="339.63" width="0.85" height="1.32" fill="#76777d"/><line x1="347.05" y1="338.60" x2="347.05" y2="339.84" stroke="#76777d" stroke-width="0.45"/><rect x="346.62" y="338.84" width="0.85" height="0.79" fill="#76777d"/><line x1="347.95" y1="338.81" x2="347.95" y2="339.99" stroke="#76777d" stroke-width="0.45"/><rect x="347.52" y="338.81" width="0.85" height="0.60" fill="#76777d"/><line x1="348.85" y1="336.72" x2="348.85" y2="341.30" stroke="#76777d" stroke-width="0.45"/><rect x="348.42" y="337.96" width="0.85" height="0.85" fill="#76777d"/><line x1="349.75" y1="337.95" x2="349.75" y2="346.93" stroke="#131315" stroke-width="0.45"/><rect x="349.32" y="337.96" width="0.85" height="7.13" fill="#131315"/><line x1="350.65" y1="344.98" x2="350.65" y2="351.47" stroke="#131315" stroke-width="0.45"/><rect x="350.22" y="345.09" width="0.85" height="6.06" fill="#131315"/><line x1="351.55" y1="350.90" x2="351.55" y2="359.39" stroke="#131315" stroke-width="0.45"/><rect x="351.12" y="351.16" width="0.85" height="5.49" fill="#131315"/><line x1="352.45" y1="355.39" x2="352.45" y2="358.32" stroke="#131315" stroke-width="0.45"/><rect x="352.02" y="356.65" width="0.85" height="1.02" fill="#131315"/><line x1="353.35" y1="357.56" x2="353.35" y2="357.99" stroke="#131315" stroke-width="0.45"/><rect x="352.92" y="357.67" width="0.85" height="0.60" fill="#131315"/><line x1="354.25" y1="357.58" x2="354.25" y2="360.87" stroke="#131315" stroke-width="0.45"/><rect x="353.82" y="357.99" width="0.85" height="0.60" fill="#131315"/><line x1="355.15" y1="357.43" x2="355.15" y2="360.49" stroke="#131315" stroke-width="0.45"/><rect x="354.72" y="358.02" width="0.85" height="1.10" fill="#131315"/><line x1="356.05" y1="354.71" x2="356.05" y2="359.13" stroke="#76777d" stroke-width="0.45"/><rect x="355.62" y="357.04" width="0.85" height="2.09" fill="#76777d"/><line x1="356.95" y1="356.73" x2="356.95" y2="358.57" stroke="#131315" stroke-width="0.45"/><rect x="356.52" y="357.04" width="0.85" height="1.00" fill="#131315"/><line x1="357.85" y1="357.02" x2="357.85" y2="358.48" stroke="#76777d" stroke-width="0.45"/><rect x="357.42" y="357.17" width="0.85" height="0.87" fill="#76777d"/><line x1="358.75" y1="355.78" x2="358.75" y2="358.19" stroke="#131315" stroke-width="0.45"/><rect x="358.32" y="357.17" width="0.85" height="0.97" fill="#131315"/><line x1="359.65" y1="356.69" x2="359.65" y2="360.54" stroke="#131315" stroke-width="0.45"/><rect x="359.22" y="358.13" width="0.85" height="2.14" fill="#131315"/><line x1="360.55" y1="358.98" x2="360.55" y2="361.61" stroke="#131315" stroke-width="0.45"/><rect x="360.12" y="360.27" width="0.85" height="1.24" fill="#131315"/><line x1="361.45" y1="358.93" x2="361.45" y2="363.44" stroke="#131315" stroke-width="0.45"/><rect x="361.02" y="361.51" width="0.85" height="1.39" fill="#131315"/><line x1="362.35" y1="360.83" x2="362.35" y2="366.75" stroke="#131315" stroke-width="0.45"/><rect x="361.92" y="362.91" width="0.85" height="1.03" fill="#131315"/><line x1="363.25" y1="362.93" x2="363.25" y2="365.60" stroke="#131315" stroke-width="0.45"/><rect x="362.82" y="363.94" width="0.85" height="0.60" fill="#131315"/><line x1="364.15" y1="363.22" x2="364.15" y2="367.35" stroke="#76777d" stroke-width="0.45"/><rect x="363.72" y="363.62" width="0.85" height="0.87" fill="#76777d"/><line x1="365.05" y1="360.39" x2="365.05" y2="365.35" stroke="#76777d" stroke-width="0.45"/><rect x="364.62" y="361.67" width="0.85" height="1.95" fill="#76777d"/><line x1="365.95" y1="360.99" x2="365.95" y2="364.65" stroke="#131315" stroke-width="0.45"/><rect x="365.52" y="361.67" width="0.85" height="0.60" fill="#131315"/><line x1="366.85" y1="359.44" x2="366.85" y2="365.24" stroke="#131315" stroke-width="0.45"/><rect x="366.42" y="361.91" width="0.85" height="2.20" fill="#131315"/><line x1="367.75" y1="361.23" x2="367.75" y2="364.14" stroke="#76777d" stroke-width="0.45"/><rect x="367.32" y="362.27" width="0.85" height="1.84" fill="#76777d"/></g>
<g font-family="Liberation Sans, sans-serif" fill="#505156" font-size="3.1px" text-rendering="geometricPrecision">
<text x="191.8" y="332" font-weight="700" textLength="22" lengthAdjust="spacingAndGlyphs">Buyside Liquidity</text>
<text x="127.8" y="401.2" font-weight="700" textLength="21.2" lengthAdjust="spacingAndGlyphs">Sellside Liquidity</text>
<text x="34.3" y="324.6" font-style="italic" textLength="81.7" lengthAdjust="spacingAndGlyphs">Consolidation building orders on both sides of the market.</text>
<text x="177.9" font-style="italic" y="424.5" textLength="76.6" lengthAdjust="spacingAndGlyphs">We ran the sellside after a long consolidation and then</text>
<text x="177.9" font-style="italic" y="427.6" textLength="76.6" lengthAdjust="spacingAndGlyphs">instantly reversed to target the opposing orders above</text>
<text x="177.9" font-style="italic" y="430.6" textLength="24.6" lengthAdjust="spacingAndGlyphs">the consolidation.</text>
</g>
</svg>
<h1><span>WHY PRICE OFTEN</span><span>MOVES AGAINST YOU</span><span>FIRST</span></h1>
<div id="body"><p><span class="l">One of the most frustrating experiences for traders is</span><span class="l">entering a position, only to see price move in the opposite</span><span class="l">direction before eventually doing what they expected. For</span><span class="l">many, this creates doubt, hesitation, or the feeling that</span><span class="l">the market is working against them.</span></p><p><span class="l">In reality, this behaviour is often a normal part of how</span><span class="l">price prepares for expansion.</span></p><p><span class="l">Before a meaningful move can occur, we need to collect</span><span class="l">liquidity. This frequently requires price to retrace into</span><span class="l">areas where orders are resting. For traders who enter too</span><span class="l">early, this retracement can feel like a mistake or a failure</span><span class="l">of the idea, even though the broader direction has not</span><span class="l">changed.</span></p><p><span class="l">These moves are not designed to trick individual traders.</span><span class="l">They are the result of the market seeking efficiency. Price</span><span class="l">moves toward areas where it can fill orders, gather</span><span class="l">participation, and build the conditions necessary for</span><span class="l">continuation.</span></p></div>
<div id="pn">31</div>
<script>
(function(){
var H=[233.7,269.0,71.05];
var B=[286.34,311.41,309.69,292.39,191.61,285.92,158.34,302.33,285.11,307.94,302.98,289.73,50.27,305.58,310.64,272.8,279.81,69.75];
function fit(list,T){for(var i=0;i<list.length&&i<T.length;i++){var e=list[i];e.style.transform='none';var r=document.createRange();r.selectNodeContents(e);var w=r.getBoundingClientRect().width;if(w>0&&T[i]>0){var k=T[i]/w;if(Math.abs(k-1)>0.002)e.style.transform='scaleX('+k.toFixed(4)+')';}}}
function run(){fit(document.querySelectorAll('h1 span'),H);fit(document.querySelectorAll('#body .l'),B);}
run();
if(document.fonts&&document.fonts.ready){document.fonts.ready.then(run);}
window.addEventListener('load',run);
})();
</script>
</body></html>
